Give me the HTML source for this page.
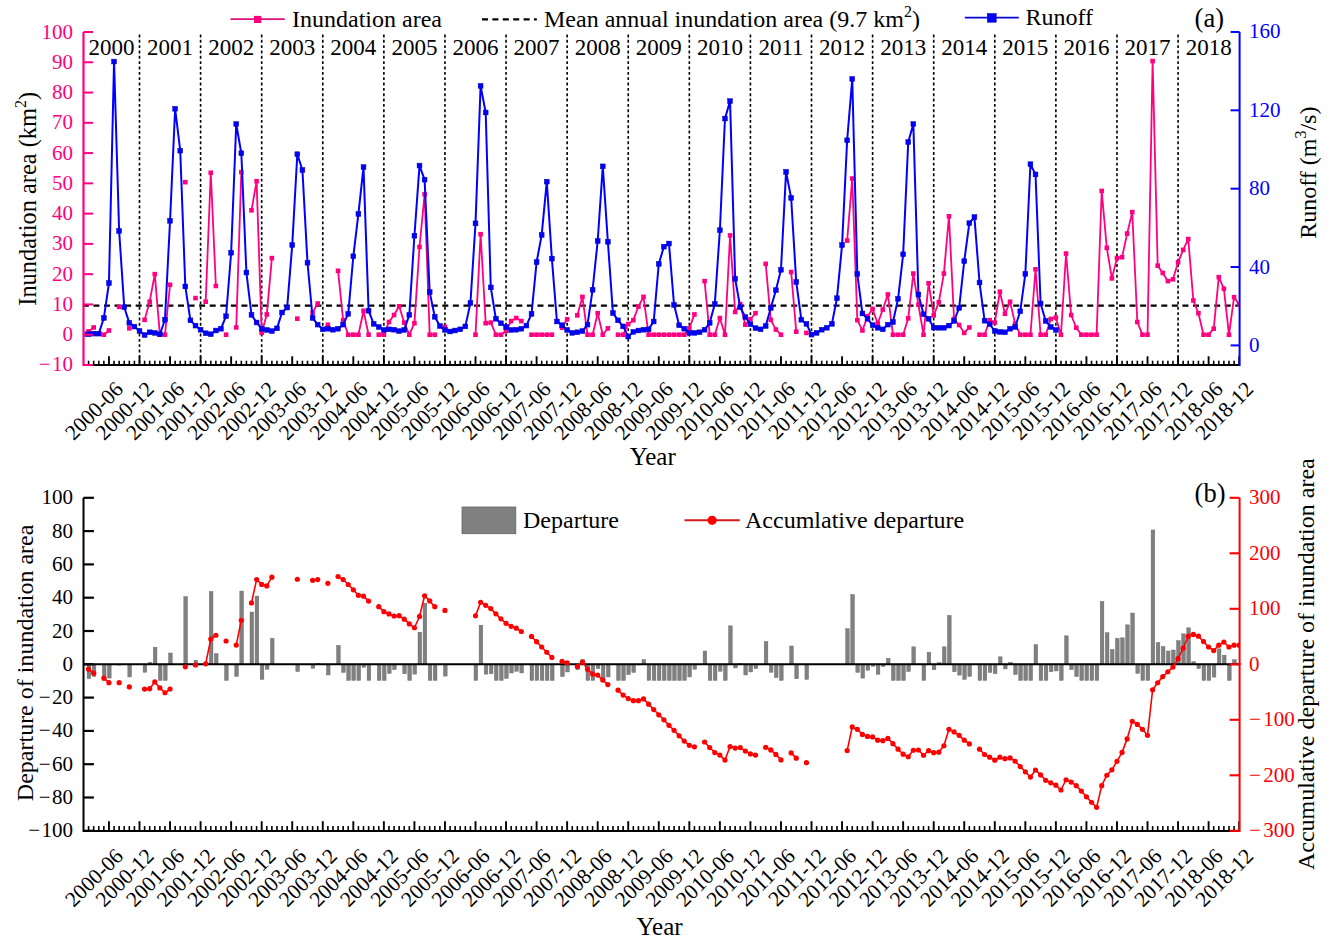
<!DOCTYPE html>
<html><head><meta charset="utf-8"><title>Inundation area and runoff</title>
<style>
html,body{margin:0;padding:0;background:#fff;}
body{width:1329px;height:944px;overflow:hidden;}
svg{display:block;font-family:"Liberation Serif", serif;}
</style></head>
<body>
<svg width="1329" height="944" viewBox="0 0 1329 944">
<defs><clipPath id="clipA"><rect x="84.6" y="0" width="1155" height="944"/></clipPath></defs>
<rect width="1329" height="944" fill="#fff"/>
<line x1="139.5" y1="34.5" x2="139.5" y2="365.0" stroke="#000" stroke-width="1.6" stroke-dasharray="2.9 2.44"/>
<line x1="200.59" y1="34.5" x2="200.59" y2="365.0" stroke="#000" stroke-width="1.6" stroke-dasharray="2.9 2.44"/>
<line x1="261.69" y1="34.5" x2="261.69" y2="365.0" stroke="#000" stroke-width="1.6" stroke-dasharray="2.9 2.44"/>
<line x1="322.78" y1="34.5" x2="322.78" y2="365.0" stroke="#000" stroke-width="1.6" stroke-dasharray="2.9 2.44"/>
<line x1="383.87" y1="34.5" x2="383.87" y2="365.0" stroke="#000" stroke-width="1.6" stroke-dasharray="2.9 2.44"/>
<line x1="444.96" y1="34.5" x2="444.96" y2="365.0" stroke="#000" stroke-width="1.6" stroke-dasharray="2.9 2.44"/>
<line x1="506.05" y1="34.5" x2="506.05" y2="365.0" stroke="#000" stroke-width="1.6" stroke-dasharray="2.9 2.44"/>
<line x1="567.14" y1="34.5" x2="567.14" y2="365.0" stroke="#000" stroke-width="1.6" stroke-dasharray="2.9 2.44"/>
<line x1="628.24" y1="34.5" x2="628.24" y2="365.0" stroke="#000" stroke-width="1.6" stroke-dasharray="2.9 2.44"/>
<line x1="689.33" y1="34.5" x2="689.33" y2="365.0" stroke="#000" stroke-width="1.6" stroke-dasharray="2.9 2.44"/>
<line x1="750.42" y1="34.5" x2="750.42" y2="365.0" stroke="#000" stroke-width="1.6" stroke-dasharray="2.9 2.44"/>
<line x1="811.51" y1="34.5" x2="811.51" y2="365.0" stroke="#000" stroke-width="1.6" stroke-dasharray="2.9 2.44"/>
<line x1="872.61" y1="34.5" x2="872.61" y2="365.0" stroke="#000" stroke-width="1.6" stroke-dasharray="2.9 2.44"/>
<line x1="933.7" y1="34.5" x2="933.7" y2="365.0" stroke="#000" stroke-width="1.6" stroke-dasharray="2.9 2.44"/>
<line x1="994.79" y1="34.5" x2="994.79" y2="365.0" stroke="#000" stroke-width="1.6" stroke-dasharray="2.9 2.44"/>
<line x1="1055.88" y1="34.5" x2="1055.88" y2="365.0" stroke="#000" stroke-width="1.6" stroke-dasharray="2.9 2.44"/>
<line x1="1116.97" y1="34.5" x2="1116.97" y2="365.0" stroke="#000" stroke-width="1.6" stroke-dasharray="2.9 2.44"/>
<line x1="1178.07" y1="34.5" x2="1178.07" y2="365.0" stroke="#000" stroke-width="1.6" stroke-dasharray="2.9 2.44"/>
<text x="111.5" y="55" font-size="23" text-anchor="middle">2000</text>
<text x="170.05" y="55" font-size="23" text-anchor="middle">2001</text>
<text x="231.14" y="55" font-size="23" text-anchor="middle">2002</text>
<text x="292.23" y="55" font-size="23" text-anchor="middle">2003</text>
<text x="353.32" y="55" font-size="23" text-anchor="middle">2004</text>
<text x="414.42" y="55" font-size="23" text-anchor="middle">2005</text>
<text x="475.51" y="55" font-size="23" text-anchor="middle">2006</text>
<text x="536.6" y="55" font-size="23" text-anchor="middle">2007</text>
<text x="597.69" y="55" font-size="23" text-anchor="middle">2008</text>
<text x="658.78" y="55" font-size="23" text-anchor="middle">2009</text>
<text x="719.88" y="55" font-size="23" text-anchor="middle">2010</text>
<text x="780.97" y="55" font-size="23" text-anchor="middle">2011</text>
<text x="842.06" y="55" font-size="23" text-anchor="middle">2012</text>
<text x="903.15" y="55" font-size="23" text-anchor="middle">2013</text>
<text x="964.24" y="55" font-size="23" text-anchor="middle">2014</text>
<text x="1025.34" y="55" font-size="23" text-anchor="middle">2015</text>
<text x="1086.43" y="55" font-size="23" text-anchor="middle">2016</text>
<text x="1147.52" y="55" font-size="23" text-anchor="middle">2017</text>
<text x="1208.83" y="55" font-size="23" text-anchor="middle">2018</text>
<line x1="82.83" y1="305.6" x2="1239.6" y2="305.6" stroke="#000" stroke-width="2.2" stroke-dasharray="6 4.573"/>
<g clip-path="url(#clipA)">
<polyline points="88.59,331.37 93.68,327.44" fill="none" stroke="#FF0080" stroke-width="1.8" stroke-linejoin="round"/>
<polyline points="103.86,334.7 108.95,330.46" fill="none" stroke="#FF0080" stroke-width="1.8" stroke-linejoin="round"/>
<polyline points="144.59,319.87 149.68,301.71 154.77,274.16 159.87,334.7 164.96,334.7 170.05,284.75" fill="none" stroke="#FF0080" stroke-width="1.8" stroke-linejoin="round"/>
<polyline points="205.68,301.71 210.78,172.76 215.87,285.97" fill="none" stroke="#FF0080" stroke-width="1.8" stroke-linejoin="round"/>
<polyline points="236.23,327.44 241.32,172.15" fill="none" stroke="#FF0080" stroke-width="1.8" stroke-linejoin="round"/>
<polyline points="251.5,210.29 256.59,181.23 261.69,332.88 266.78,314.42 271.87,258.12" fill="none" stroke="#FF0080" stroke-width="1.8" stroke-linejoin="round"/>
<polyline points="312.6,312.6 317.69,303.52" fill="none" stroke="#FF0080" stroke-width="1.8" stroke-linejoin="round"/>
<polyline points="338.05,270.83 343.14,320.17 348.23,334.7 353.32,334.7 358.41,334.7 363.5,310.79 368.6,334.7" fill="none" stroke="#FF0080" stroke-width="1.8" stroke-linejoin="round"/>
<polyline points="378.78,334.7 383.87,334.7 388.96,321.99 394.05,315.02 399.14,306.25 404.23,322.59 409.32,334.7 414.42,323.2 419.51,246.92 424.6,194.25 429.69,334.7 434.78,334.7" fill="none" stroke="#FF0080" stroke-width="1.8" stroke-linejoin="round"/>
<polyline points="475.51,334.7 480.6,234.2 485.69,323.2 490.78,322.59 495.87,334.7 500.96,334.7 506.05,331.07 511.14,321.08 516.24,318.05 521.33,321.08" fill="none" stroke="#FF0080" stroke-width="1.8" stroke-linejoin="round"/>
<polyline points="531.51,334.7 536.6,334.7 541.69,334.7 546.78,334.7 551.87,334.7" fill="none" stroke="#FF0080" stroke-width="1.8" stroke-linejoin="round"/>
<polyline points="562.05,327.74 567.14,319.26" fill="none" stroke="#FF0080" stroke-width="1.8" stroke-linejoin="round"/>
<polyline points="577.33,315.33 582.42,296.86 587.51,334.7 592.6,334.7 597.69,313.21 602.78,334.7 607.87,328.34" fill="none" stroke="#FF0080" stroke-width="1.8" stroke-linejoin="round"/>
<polyline points="618.06,334.7 623.15,334.7 628.24,324.11 633.33,320.17 638.42,306.55 643.51,296.86 648.6,334.7 653.69,334.7 658.78,334.7 663.87,334.7 668.97,334.7 674.06,334.7 679.15,334.7 684.24,334.7 689.33,328.34 694.42,314.42" fill="none" stroke="#FF0080" stroke-width="1.8" stroke-linejoin="round"/>
<polyline points="704.6,281.12 709.69,334.7 714.78,334.7 719.88,318.05 724.97,334.7 730.06,235.41 735.15,312 740.24,304.13 745.33,324.71 750.42,319.26 755.51,313.21" fill="none" stroke="#FF0080" stroke-width="1.8" stroke-linejoin="round"/>
<polyline points="765.69,263.87 770.79,319.87 775.88,329.55 780.97,334.7" fill="none" stroke="#FF0080" stroke-width="1.8" stroke-linejoin="round"/>
<polyline points="791.15,272.04 796.24,331.67" fill="none" stroke="#FF0080" stroke-width="1.8" stroke-linejoin="round"/>
<polyline points="847.15,240.56 852.24,178.51 857.33,320.17 862.42,330.46 867.51,316.24 872.61,308.97 877.7,323.5 882.79,309.58 887.88,294.44 892.97,334.7 898.06,334.7 903.15,334.7 908.24,318.35 913.33,273.55 918.42,304.73 923.51,334.7 928.61,283.24 933.7,315.33 938.79,302.31 943.88,273.55 948.97,216.34 954.06,318.96 959.15,325.01 964.24,332.88 969.33,327.44" fill="none" stroke="#FF0080" stroke-width="1.8" stroke-linejoin="round"/>
<polyline points="979.52,334.7 984.61,334.7 989.7,320.17 994.79,322.59 999.88,291.72 1004.97,313.81 1010.06,301.71 1015.15,323.8 1020.24,334.7 1025.34,334.7 1030.43,334.7 1035.52,269.32 1040.61,334.7 1045.7,334.7 1050.79,318.96 1055.88,317.45 1060.97,334.7 1066.06,253.58 1071.15,315.02 1076.24,327.74 1081.34,334.7 1086.43,334.7 1091.52,334.7 1096.61,334.7 1101.7,190.92 1106.79,247.83 1111.88,278.4 1116.97,258.12 1122.06,257.21 1127.15,233.6 1132.25,212.11 1137.34,321.99 1142.43,334.7 1147.52,334.7 1152.61,61.06 1157.7,265.68 1162.79,272.95 1167.88,281.12 1172.97,279.31 1178.07,262.35 1183.16,249.94 1188.25,239.05 1193.34,300.49 1198.43,313.21 1203.52,334.7 1208.61,334.7 1213.7,328.65 1218.79,277.19 1223.88,288.69 1228.98,334.7 1234.07,297.17 1239.16,304.43" fill="none" stroke="#FF0080" stroke-width="1.8" stroke-linejoin="round"/>
<rect x="86.29" y="329.07" width="4.6" height="4.6" fill="#FF0080"/>
<rect x="91.38" y="325.14" width="4.6" height="4.6" fill="#FF0080"/>
<rect x="101.56" y="332.4" width="4.6" height="4.6" fill="#FF0080"/>
<rect x="106.66" y="328.16" width="4.6" height="4.6" fill="#FF0080"/>
<rect x="116.84" y="304.55" width="4.6" height="4.6" fill="#FF0080"/>
<rect x="127.02" y="326.04" width="4.6" height="4.6" fill="#FF0080"/>
<rect x="142.29" y="317.57" width="4.6" height="4.6" fill="#FF0080"/>
<rect x="147.38" y="299.41" width="4.6" height="4.6" fill="#FF0080"/>
<rect x="152.47" y="271.86" width="4.6" height="4.6" fill="#FF0080"/>
<rect x="157.56" y="332.4" width="4.6" height="4.6" fill="#FF0080"/>
<rect x="162.66" y="332.4" width="4.6" height="4.6" fill="#FF0080"/>
<rect x="167.75" y="282.45" width="4.6" height="4.6" fill="#FF0080"/>
<rect x="183.02" y="179.84" width="4.6" height="4.6" fill="#FF0080"/>
<rect x="193.2" y="295.77" width="4.6" height="4.6" fill="#FF0080"/>
<rect x="203.38" y="299.41" width="4.6" height="4.6" fill="#FF0080"/>
<rect x="208.47" y="170.46" width="4.6" height="4.6" fill="#FF0080"/>
<rect x="213.57" y="283.67" width="4.6" height="4.6" fill="#FF0080"/>
<rect x="223.75" y="332.4" width="4.6" height="4.6" fill="#FF0080"/>
<rect x="233.93" y="325.14" width="4.6" height="4.6" fill="#FF0080"/>
<rect x="239.02" y="169.85" width="4.6" height="4.6" fill="#FF0080"/>
<rect x="249.2" y="207.99" width="4.6" height="4.6" fill="#FF0080"/>
<rect x="254.29" y="178.93" width="4.6" height="4.6" fill="#FF0080"/>
<rect x="259.38" y="330.58" width="4.6" height="4.6" fill="#FF0080"/>
<rect x="264.48" y="312.12" width="4.6" height="4.6" fill="#FF0080"/>
<rect x="269.57" y="255.82" width="4.6" height="4.6" fill="#FF0080"/>
<rect x="295.02" y="316.36" width="4.6" height="4.6" fill="#FF0080"/>
<rect x="310.3" y="310.3" width="4.6" height="4.6" fill="#FF0080"/>
<rect x="315.39" y="301.22" width="4.6" height="4.6" fill="#FF0080"/>
<rect x="325.57" y="322.41" width="4.6" height="4.6" fill="#FF0080"/>
<rect x="335.75" y="268.53" width="4.6" height="4.6" fill="#FF0080"/>
<rect x="340.84" y="317.87" width="4.6" height="4.6" fill="#FF0080"/>
<rect x="345.93" y="332.4" width="4.6" height="4.6" fill="#FF0080"/>
<rect x="351.02" y="332.4" width="4.6" height="4.6" fill="#FF0080"/>
<rect x="356.11" y="332.4" width="4.6" height="4.6" fill="#FF0080"/>
<rect x="361.2" y="308.49" width="4.6" height="4.6" fill="#FF0080"/>
<rect x="366.3" y="332.4" width="4.6" height="4.6" fill="#FF0080"/>
<rect x="376.48" y="332.4" width="4.6" height="4.6" fill="#FF0080"/>
<rect x="381.57" y="332.4" width="4.6" height="4.6" fill="#FF0080"/>
<rect x="386.66" y="319.69" width="4.6" height="4.6" fill="#FF0080"/>
<rect x="391.75" y="312.72" width="4.6" height="4.6" fill="#FF0080"/>
<rect x="396.84" y="303.95" width="4.6" height="4.6" fill="#FF0080"/>
<rect x="401.93" y="320.29" width="4.6" height="4.6" fill="#FF0080"/>
<rect x="407.02" y="332.4" width="4.6" height="4.6" fill="#FF0080"/>
<rect x="412.12" y="320.9" width="4.6" height="4.6" fill="#FF0080"/>
<rect x="417.21" y="244.62" width="4.6" height="4.6" fill="#FF0080"/>
<rect x="422.3" y="191.95" width="4.6" height="4.6" fill="#FF0080"/>
<rect x="427.39" y="332.4" width="4.6" height="4.6" fill="#FF0080"/>
<rect x="432.48" y="332.4" width="4.6" height="4.6" fill="#FF0080"/>
<rect x="442.66" y="324.53" width="4.6" height="4.6" fill="#FF0080"/>
<rect x="473.21" y="332.4" width="4.6" height="4.6" fill="#FF0080"/>
<rect x="478.3" y="231.9" width="4.6" height="4.6" fill="#FF0080"/>
<rect x="483.39" y="320.9" width="4.6" height="4.6" fill="#FF0080"/>
<rect x="488.48" y="320.29" width="4.6" height="4.6" fill="#FF0080"/>
<rect x="493.57" y="332.4" width="4.6" height="4.6" fill="#FF0080"/>
<rect x="498.66" y="332.4" width="4.6" height="4.6" fill="#FF0080"/>
<rect x="503.75" y="328.77" width="4.6" height="4.6" fill="#FF0080"/>
<rect x="508.84" y="318.78" width="4.6" height="4.6" fill="#FF0080"/>
<rect x="513.94" y="315.75" width="4.6" height="4.6" fill="#FF0080"/>
<rect x="519.03" y="318.78" width="4.6" height="4.6" fill="#FF0080"/>
<rect x="529.21" y="332.4" width="4.6" height="4.6" fill="#FF0080"/>
<rect x="534.3" y="332.4" width="4.6" height="4.6" fill="#FF0080"/>
<rect x="539.39" y="332.4" width="4.6" height="4.6" fill="#FF0080"/>
<rect x="544.48" y="332.4" width="4.6" height="4.6" fill="#FF0080"/>
<rect x="549.57" y="332.4" width="4.6" height="4.6" fill="#FF0080"/>
<rect x="559.75" y="325.44" width="4.6" height="4.6" fill="#FF0080"/>
<rect x="564.85" y="316.96" width="4.6" height="4.6" fill="#FF0080"/>
<rect x="575.03" y="313.03" width="4.6" height="4.6" fill="#FF0080"/>
<rect x="580.12" y="294.56" width="4.6" height="4.6" fill="#FF0080"/>
<rect x="585.21" y="332.4" width="4.6" height="4.6" fill="#FF0080"/>
<rect x="590.3" y="332.4" width="4.6" height="4.6" fill="#FF0080"/>
<rect x="595.39" y="310.91" width="4.6" height="4.6" fill="#FF0080"/>
<rect x="600.48" y="332.4" width="4.6" height="4.6" fill="#FF0080"/>
<rect x="605.57" y="326.04" width="4.6" height="4.6" fill="#FF0080"/>
<rect x="615.76" y="332.4" width="4.6" height="4.6" fill="#FF0080"/>
<rect x="620.85" y="332.4" width="4.6" height="4.6" fill="#FF0080"/>
<rect x="625.94" y="321.81" width="4.6" height="4.6" fill="#FF0080"/>
<rect x="631.03" y="317.87" width="4.6" height="4.6" fill="#FF0080"/>
<rect x="636.12" y="304.25" width="4.6" height="4.6" fill="#FF0080"/>
<rect x="641.21" y="294.56" width="4.6" height="4.6" fill="#FF0080"/>
<rect x="646.3" y="332.4" width="4.6" height="4.6" fill="#FF0080"/>
<rect x="651.39" y="332.4" width="4.6" height="4.6" fill="#FF0080"/>
<rect x="656.48" y="332.4" width="4.6" height="4.6" fill="#FF0080"/>
<rect x="661.57" y="332.4" width="4.6" height="4.6" fill="#FF0080"/>
<rect x="666.67" y="332.4" width="4.6" height="4.6" fill="#FF0080"/>
<rect x="671.76" y="332.4" width="4.6" height="4.6" fill="#FF0080"/>
<rect x="676.85" y="332.4" width="4.6" height="4.6" fill="#FF0080"/>
<rect x="681.94" y="332.4" width="4.6" height="4.6" fill="#FF0080"/>
<rect x="687.03" y="326.04" width="4.6" height="4.6" fill="#FF0080"/>
<rect x="692.12" y="312.12" width="4.6" height="4.6" fill="#FF0080"/>
<rect x="702.3" y="278.82" width="4.6" height="4.6" fill="#FF0080"/>
<rect x="707.39" y="332.4" width="4.6" height="4.6" fill="#FF0080"/>
<rect x="712.48" y="332.4" width="4.6" height="4.6" fill="#FF0080"/>
<rect x="717.58" y="315.75" width="4.6" height="4.6" fill="#FF0080"/>
<rect x="722.67" y="332.4" width="4.6" height="4.6" fill="#FF0080"/>
<rect x="727.76" y="233.11" width="4.6" height="4.6" fill="#FF0080"/>
<rect x="732.85" y="309.7" width="4.6" height="4.6" fill="#FF0080"/>
<rect x="737.94" y="301.83" width="4.6" height="4.6" fill="#FF0080"/>
<rect x="743.03" y="322.41" width="4.6" height="4.6" fill="#FF0080"/>
<rect x="748.12" y="316.96" width="4.6" height="4.6" fill="#FF0080"/>
<rect x="753.21" y="310.91" width="4.6" height="4.6" fill="#FF0080"/>
<rect x="763.39" y="261.57" width="4.6" height="4.6" fill="#FF0080"/>
<rect x="768.49" y="317.57" width="4.6" height="4.6" fill="#FF0080"/>
<rect x="773.58" y="327.25" width="4.6" height="4.6" fill="#FF0080"/>
<rect x="778.67" y="332.4" width="4.6" height="4.6" fill="#FF0080"/>
<rect x="788.85" y="269.74" width="4.6" height="4.6" fill="#FF0080"/>
<rect x="793.94" y="329.37" width="4.6" height="4.6" fill="#FF0080"/>
<rect x="804.12" y="330.58" width="4.6" height="4.6" fill="#FF0080"/>
<rect x="844.85" y="238.26" width="4.6" height="4.6" fill="#FF0080"/>
<rect x="849.94" y="176.21" width="4.6" height="4.6" fill="#FF0080"/>
<rect x="855.03" y="317.87" width="4.6" height="4.6" fill="#FF0080"/>
<rect x="860.12" y="328.16" width="4.6" height="4.6" fill="#FF0080"/>
<rect x="865.21" y="313.94" width="4.6" height="4.6" fill="#FF0080"/>
<rect x="870.31" y="306.67" width="4.6" height="4.6" fill="#FF0080"/>
<rect x="875.4" y="321.2" width="4.6" height="4.6" fill="#FF0080"/>
<rect x="880.49" y="307.28" width="4.6" height="4.6" fill="#FF0080"/>
<rect x="885.58" y="292.14" width="4.6" height="4.6" fill="#FF0080"/>
<rect x="890.67" y="332.4" width="4.6" height="4.6" fill="#FF0080"/>
<rect x="895.76" y="332.4" width="4.6" height="4.6" fill="#FF0080"/>
<rect x="900.85" y="332.4" width="4.6" height="4.6" fill="#FF0080"/>
<rect x="905.94" y="316.05" width="4.6" height="4.6" fill="#FF0080"/>
<rect x="911.03" y="271.25" width="4.6" height="4.6" fill="#FF0080"/>
<rect x="916.12" y="302.43" width="4.6" height="4.6" fill="#FF0080"/>
<rect x="921.22" y="332.4" width="4.6" height="4.6" fill="#FF0080"/>
<rect x="926.31" y="280.94" width="4.6" height="4.6" fill="#FF0080"/>
<rect x="931.4" y="313.03" width="4.6" height="4.6" fill="#FF0080"/>
<rect x="936.49" y="300.01" width="4.6" height="4.6" fill="#FF0080"/>
<rect x="941.58" y="271.25" width="4.6" height="4.6" fill="#FF0080"/>
<rect x="946.67" y="214.04" width="4.6" height="4.6" fill="#FF0080"/>
<rect x="951.76" y="316.66" width="4.6" height="4.6" fill="#FF0080"/>
<rect x="956.85" y="322.71" width="4.6" height="4.6" fill="#FF0080"/>
<rect x="961.94" y="330.58" width="4.6" height="4.6" fill="#FF0080"/>
<rect x="967.03" y="325.14" width="4.6" height="4.6" fill="#FF0080"/>
<rect x="977.22" y="332.4" width="4.6" height="4.6" fill="#FF0080"/>
<rect x="982.31" y="332.4" width="4.6" height="4.6" fill="#FF0080"/>
<rect x="987.4" y="317.87" width="4.6" height="4.6" fill="#FF0080"/>
<rect x="992.49" y="320.29" width="4.6" height="4.6" fill="#FF0080"/>
<rect x="997.58" y="289.42" width="4.6" height="4.6" fill="#FF0080"/>
<rect x="1002.67" y="311.51" width="4.6" height="4.6" fill="#FF0080"/>
<rect x="1007.76" y="299.41" width="4.6" height="4.6" fill="#FF0080"/>
<rect x="1012.85" y="321.5" width="4.6" height="4.6" fill="#FF0080"/>
<rect x="1017.94" y="332.4" width="4.6" height="4.6" fill="#FF0080"/>
<rect x="1023.04" y="332.4" width="4.6" height="4.6" fill="#FF0080"/>
<rect x="1028.13" y="332.4" width="4.6" height="4.6" fill="#FF0080"/>
<rect x="1033.22" y="267.02" width="4.6" height="4.6" fill="#FF0080"/>
<rect x="1038.31" y="332.4" width="4.6" height="4.6" fill="#FF0080"/>
<rect x="1043.4" y="332.4" width="4.6" height="4.6" fill="#FF0080"/>
<rect x="1048.49" y="316.66" width="4.6" height="4.6" fill="#FF0080"/>
<rect x="1053.58" y="315.15" width="4.6" height="4.6" fill="#FF0080"/>
<rect x="1058.67" y="332.4" width="4.6" height="4.6" fill="#FF0080"/>
<rect x="1063.76" y="251.28" width="4.6" height="4.6" fill="#FF0080"/>
<rect x="1068.85" y="312.72" width="4.6" height="4.6" fill="#FF0080"/>
<rect x="1073.94" y="325.44" width="4.6" height="4.6" fill="#FF0080"/>
<rect x="1079.04" y="332.4" width="4.6" height="4.6" fill="#FF0080"/>
<rect x="1084.13" y="332.4" width="4.6" height="4.6" fill="#FF0080"/>
<rect x="1089.22" y="332.4" width="4.6" height="4.6" fill="#FF0080"/>
<rect x="1094.31" y="332.4" width="4.6" height="4.6" fill="#FF0080"/>
<rect x="1099.4" y="188.62" width="4.6" height="4.6" fill="#FF0080"/>
<rect x="1104.49" y="245.53" width="4.6" height="4.6" fill="#FF0080"/>
<rect x="1109.58" y="276.1" width="4.6" height="4.6" fill="#FF0080"/>
<rect x="1114.67" y="255.82" width="4.6" height="4.6" fill="#FF0080"/>
<rect x="1119.76" y="254.91" width="4.6" height="4.6" fill="#FF0080"/>
<rect x="1124.86" y="231.3" width="4.6" height="4.6" fill="#FF0080"/>
<rect x="1129.95" y="209.81" width="4.6" height="4.6" fill="#FF0080"/>
<rect x="1135.04" y="319.69" width="4.6" height="4.6" fill="#FF0080"/>
<rect x="1140.13" y="332.4" width="4.6" height="4.6" fill="#FF0080"/>
<rect x="1145.22" y="332.4" width="4.6" height="4.6" fill="#FF0080"/>
<rect x="1150.31" y="58.76" width="4.6" height="4.6" fill="#FF0080"/>
<rect x="1155.4" y="263.38" width="4.6" height="4.6" fill="#FF0080"/>
<rect x="1160.49" y="270.65" width="4.6" height="4.6" fill="#FF0080"/>
<rect x="1165.58" y="278.82" width="4.6" height="4.6" fill="#FF0080"/>
<rect x="1170.67" y="277.01" width="4.6" height="4.6" fill="#FF0080"/>
<rect x="1175.77" y="260.05" width="4.6" height="4.6" fill="#FF0080"/>
<rect x="1180.86" y="247.64" width="4.6" height="4.6" fill="#FF0080"/>
<rect x="1185.95" y="236.75" width="4.6" height="4.6" fill="#FF0080"/>
<rect x="1191.04" y="298.19" width="4.6" height="4.6" fill="#FF0080"/>
<rect x="1196.13" y="310.91" width="4.6" height="4.6" fill="#FF0080"/>
<rect x="1201.22" y="332.4" width="4.6" height="4.6" fill="#FF0080"/>
<rect x="1206.31" y="332.4" width="4.6" height="4.6" fill="#FF0080"/>
<rect x="1211.4" y="326.35" width="4.6" height="4.6" fill="#FF0080"/>
<rect x="1216.49" y="274.89" width="4.6" height="4.6" fill="#FF0080"/>
<rect x="1221.58" y="286.39" width="4.6" height="4.6" fill="#FF0080"/>
<rect x="1226.68" y="332.4" width="4.6" height="4.6" fill="#FF0080"/>
<rect x="1231.77" y="294.87" width="4.6" height="4.6" fill="#FF0080"/>
<rect x="1236.86" y="302.13" width="4.6" height="4.6" fill="#FF0080"/>
<polyline points="83.5,334.23 88.59,334.23 93.68,333.65 98.77,333.65 103.86,317.97 108.95,283.1 114.05,61.54 119.14,230.99 124.23,307.2 129.32,322.87 134.41,326.59 139.5,331.1 144.59,335.02 149.68,332.27 154.77,332.86 159.87,334.23 164.96,319.74 170.05,220.81 175.14,108.75 180.23,150.68 185.32,286.43 190.41,320.32 195.5,325.61 200.59,329.73 205.68,333.25 210.78,334.23 215.87,330.51 220.96,328.75 226.05,316.21 231.14,252.74 236.23,124.03 241.32,153.22 246.41,272.53 251.5,314.84 256.59,322.48 261.69,328.75 266.78,329.92 271.87,331.1 276.96,328.36 282.05,312.49 287.14,307.59 292.23,245.1 297.32,154.2 302.41,170.07 307.5,262.73 312.6,317.97 317.69,324.63 322.78,329.34 327.87,328.75 332.96,329.73 338.05,328.75 343.14,324.63 348.23,313.86 353.32,256.27 358.41,213.95 363.5,167.13 368.6,310.73 373.69,323.85 378.78,326.99 383.87,329.92 388.96,329.34 394.05,329.73 399.14,331.1 404.23,329.92 409.32,314.84 414.42,235.7 419.51,165.56 424.6,179.67 429.69,292.12 434.78,316.8 439.87,326.01 444.96,329.92 450.05,331.49 455.14,330.51 460.23,329.34 465.32,326.4 470.42,303.09 475.51,223.35 480.6,85.83 485.69,112.47 490.78,287.41 495.87,318.76 500.96,323.26 506.05,326.99 511.14,329.92 516.24,329.73 521.33,328.75 526.42,325.61 531.51,313.86 536.6,262.14 541.69,234.91 546.78,181.63 551.87,258.62 556.96,321.5 562.05,325.22 567.14,329.92 572.24,332.86 577.33,332.27 582.42,331.1 587.51,324.63 592.6,289.76 597.69,240.99 602.78,166.35 607.87,241.77 612.96,313.08 618.06,320.32 623.15,326.4 628.24,336.58 633.33,331.88 638.42,330.51 643.51,329.73 648.6,329.34 653.69,321.5 658.78,263.91 663.87,246.67 668.97,243.53 674.06,304.85 679.15,325.22 684.24,328.75 689.33,332.86 694.42,332.86 699.51,332.27 704.6,329.73 709.69,322.87 714.78,304.07 719.88,230.21 724.97,118.55 730.06,101.11 735.15,278.79 740.24,307.2 745.33,316.99 750.42,324.24 755.51,328.16 760.6,329.34 765.69,326.01 770.79,307.98 775.88,290.16 780.97,269.78 786.06,171.83 791.15,197.89 796.24,281.93 801.33,319.74 806.42,323.85 811.51,334.63 816.6,332.86 821.7,329.73 826.79,327.77 831.88,323.85 836.97,298.19 842.06,245.1 847.15,140.29 852.24,78.98 857.33,274.09 862.42,313.47 867.51,318.76 872.61,325.22 877.7,327.77 882.79,329.34 887.88,324.63 892.97,322.09 898.06,298.78 903.15,254.31 908.24,142.06 913.33,124.03 918.42,294.47 923.51,314.25 928.61,318.76 933.7,327.57 938.79,327.77 943.88,327.77 948.97,325.61 954.06,320.91 959.15,307.98 964.24,261.16 969.33,223.16 974.43,217.09 979.52,282.52 984.61,320.72 989.7,324.24 994.79,331.1 999.88,331.88 1004.97,332.27 1010.06,328.75 1015.15,326.99 1020.24,311.31 1025.34,273.9 1030.43,164.19 1035.52,174.38 1040.61,303.48 1045.7,320.91 1050.79,326.99 1055.88,329.92" fill="none" stroke="#0000FF" stroke-width="2" stroke-linejoin="round"/>
<rect x="81.1" y="331.83" width="4.8" height="4.8" fill="#0000FF" stroke="#0000B0" stroke-width="0.5"/>
<rect x="86.19" y="331.83" width="4.8" height="4.8" fill="#0000FF" stroke="#0000B0" stroke-width="0.5"/>
<rect x="91.28" y="331.25" width="4.8" height="4.8" fill="#0000FF" stroke="#0000B0" stroke-width="0.5"/>
<rect x="96.37" y="331.25" width="4.8" height="4.8" fill="#0000FF" stroke="#0000B0" stroke-width="0.5"/>
<rect x="101.46" y="315.57" width="4.8" height="4.8" fill="#0000FF" stroke="#0000B0" stroke-width="0.5"/>
<rect x="106.55" y="280.7" width="4.8" height="4.8" fill="#0000FF" stroke="#0000B0" stroke-width="0.5"/>
<rect x="111.65" y="59.14" width="4.8" height="4.8" fill="#0000FF" stroke="#0000B0" stroke-width="0.5"/>
<rect x="116.74" y="228.59" width="4.8" height="4.8" fill="#0000FF" stroke="#0000B0" stroke-width="0.5"/>
<rect x="121.83" y="304.8" width="4.8" height="4.8" fill="#0000FF" stroke="#0000B0" stroke-width="0.5"/>
<rect x="126.92" y="320.47" width="4.8" height="4.8" fill="#0000FF" stroke="#0000B0" stroke-width="0.5"/>
<rect x="132.01" y="324.19" width="4.8" height="4.8" fill="#0000FF" stroke="#0000B0" stroke-width="0.5"/>
<rect x="137.1" y="328.7" width="4.8" height="4.8" fill="#0000FF" stroke="#0000B0" stroke-width="0.5"/>
<rect x="142.19" y="332.62" width="4.8" height="4.8" fill="#0000FF" stroke="#0000B0" stroke-width="0.5"/>
<rect x="147.28" y="329.87" width="4.8" height="4.8" fill="#0000FF" stroke="#0000B0" stroke-width="0.5"/>
<rect x="152.37" y="330.46" width="4.8" height="4.8" fill="#0000FF" stroke="#0000B0" stroke-width="0.5"/>
<rect x="157.47" y="331.83" width="4.8" height="4.8" fill="#0000FF" stroke="#0000B0" stroke-width="0.5"/>
<rect x="162.56" y="317.34" width="4.8" height="4.8" fill="#0000FF" stroke="#0000B0" stroke-width="0.5"/>
<rect x="167.65" y="218.41" width="4.8" height="4.8" fill="#0000FF" stroke="#0000B0" stroke-width="0.5"/>
<rect x="172.74" y="106.35" width="4.8" height="4.8" fill="#0000FF" stroke="#0000B0" stroke-width="0.5"/>
<rect x="177.83" y="148.28" width="4.8" height="4.8" fill="#0000FF" stroke="#0000B0" stroke-width="0.5"/>
<rect x="182.92" y="284.03" width="4.8" height="4.8" fill="#0000FF" stroke="#0000B0" stroke-width="0.5"/>
<rect x="188.01" y="317.92" width="4.8" height="4.8" fill="#0000FF" stroke="#0000B0" stroke-width="0.5"/>
<rect x="193.1" y="323.21" width="4.8" height="4.8" fill="#0000FF" stroke="#0000B0" stroke-width="0.5"/>
<rect x="198.19" y="327.33" width="4.8" height="4.8" fill="#0000FF" stroke="#0000B0" stroke-width="0.5"/>
<rect x="203.28" y="330.85" width="4.8" height="4.8" fill="#0000FF" stroke="#0000B0" stroke-width="0.5"/>
<rect x="208.38" y="331.83" width="4.8" height="4.8" fill="#0000FF" stroke="#0000B0" stroke-width="0.5"/>
<rect x="213.47" y="328.11" width="4.8" height="4.8" fill="#0000FF" stroke="#0000B0" stroke-width="0.5"/>
<rect x="218.56" y="326.35" width="4.8" height="4.8" fill="#0000FF" stroke="#0000B0" stroke-width="0.5"/>
<rect x="223.65" y="313.81" width="4.8" height="4.8" fill="#0000FF" stroke="#0000B0" stroke-width="0.5"/>
<rect x="228.74" y="250.34" width="4.8" height="4.8" fill="#0000FF" stroke="#0000B0" stroke-width="0.5"/>
<rect x="233.83" y="121.63" width="4.8" height="4.8" fill="#0000FF" stroke="#0000B0" stroke-width="0.5"/>
<rect x="238.92" y="150.82" width="4.8" height="4.8" fill="#0000FF" stroke="#0000B0" stroke-width="0.5"/>
<rect x="244.01" y="270.13" width="4.8" height="4.8" fill="#0000FF" stroke="#0000B0" stroke-width="0.5"/>
<rect x="249.1" y="312.44" width="4.8" height="4.8" fill="#0000FF" stroke="#0000B0" stroke-width="0.5"/>
<rect x="254.19" y="320.08" width="4.8" height="4.8" fill="#0000FF" stroke="#0000B0" stroke-width="0.5"/>
<rect x="259.29" y="326.35" width="4.8" height="4.8" fill="#0000FF" stroke="#0000B0" stroke-width="0.5"/>
<rect x="264.38" y="327.52" width="4.8" height="4.8" fill="#0000FF" stroke="#0000B0" stroke-width="0.5"/>
<rect x="269.47" y="328.7" width="4.8" height="4.8" fill="#0000FF" stroke="#0000B0" stroke-width="0.5"/>
<rect x="274.56" y="325.96" width="4.8" height="4.8" fill="#0000FF" stroke="#0000B0" stroke-width="0.5"/>
<rect x="279.65" y="310.09" width="4.8" height="4.8" fill="#0000FF" stroke="#0000B0" stroke-width="0.5"/>
<rect x="284.74" y="305.19" width="4.8" height="4.8" fill="#0000FF" stroke="#0000B0" stroke-width="0.5"/>
<rect x="289.83" y="242.7" width="4.8" height="4.8" fill="#0000FF" stroke="#0000B0" stroke-width="0.5"/>
<rect x="294.92" y="151.8" width="4.8" height="4.8" fill="#0000FF" stroke="#0000B0" stroke-width="0.5"/>
<rect x="300.01" y="167.67" width="4.8" height="4.8" fill="#0000FF" stroke="#0000B0" stroke-width="0.5"/>
<rect x="305.1" y="260.33" width="4.8" height="4.8" fill="#0000FF" stroke="#0000B0" stroke-width="0.5"/>
<rect x="310.2" y="315.57" width="4.8" height="4.8" fill="#0000FF" stroke="#0000B0" stroke-width="0.5"/>
<rect x="315.29" y="322.23" width="4.8" height="4.8" fill="#0000FF" stroke="#0000B0" stroke-width="0.5"/>
<rect x="320.38" y="326.94" width="4.8" height="4.8" fill="#0000FF" stroke="#0000B0" stroke-width="0.5"/>
<rect x="325.47" y="326.35" width="4.8" height="4.8" fill="#0000FF" stroke="#0000B0" stroke-width="0.5"/>
<rect x="330.56" y="327.33" width="4.8" height="4.8" fill="#0000FF" stroke="#0000B0" stroke-width="0.5"/>
<rect x="335.65" y="326.35" width="4.8" height="4.8" fill="#0000FF" stroke="#0000B0" stroke-width="0.5"/>
<rect x="340.74" y="322.23" width="4.8" height="4.8" fill="#0000FF" stroke="#0000B0" stroke-width="0.5"/>
<rect x="345.83" y="311.46" width="4.8" height="4.8" fill="#0000FF" stroke="#0000B0" stroke-width="0.5"/>
<rect x="350.92" y="253.87" width="4.8" height="4.8" fill="#0000FF" stroke="#0000B0" stroke-width="0.5"/>
<rect x="356.01" y="211.55" width="4.8" height="4.8" fill="#0000FF" stroke="#0000B0" stroke-width="0.5"/>
<rect x="361.11" y="164.73" width="4.8" height="4.8" fill="#0000FF" stroke="#0000B0" stroke-width="0.5"/>
<rect x="366.2" y="308.33" width="4.8" height="4.8" fill="#0000FF" stroke="#0000B0" stroke-width="0.5"/>
<rect x="371.29" y="321.45" width="4.8" height="4.8" fill="#0000FF" stroke="#0000B0" stroke-width="0.5"/>
<rect x="376.38" y="324.59" width="4.8" height="4.8" fill="#0000FF" stroke="#0000B0" stroke-width="0.5"/>
<rect x="381.47" y="327.52" width="4.8" height="4.8" fill="#0000FF" stroke="#0000B0" stroke-width="0.5"/>
<rect x="386.56" y="326.94" width="4.8" height="4.8" fill="#0000FF" stroke="#0000B0" stroke-width="0.5"/>
<rect x="391.65" y="327.33" width="4.8" height="4.8" fill="#0000FF" stroke="#0000B0" stroke-width="0.5"/>
<rect x="396.74" y="328.7" width="4.8" height="4.8" fill="#0000FF" stroke="#0000B0" stroke-width="0.5"/>
<rect x="401.83" y="327.52" width="4.8" height="4.8" fill="#0000FF" stroke="#0000B0" stroke-width="0.5"/>
<rect x="406.92" y="312.44" width="4.8" height="4.8" fill="#0000FF" stroke="#0000B0" stroke-width="0.5"/>
<rect x="412.02" y="233.3" width="4.8" height="4.8" fill="#0000FF" stroke="#0000B0" stroke-width="0.5"/>
<rect x="417.11" y="163.16" width="4.8" height="4.8" fill="#0000FF" stroke="#0000B0" stroke-width="0.5"/>
<rect x="422.2" y="177.27" width="4.8" height="4.8" fill="#0000FF" stroke="#0000B0" stroke-width="0.5"/>
<rect x="427.29" y="289.72" width="4.8" height="4.8" fill="#0000FF" stroke="#0000B0" stroke-width="0.5"/>
<rect x="432.38" y="314.4" width="4.8" height="4.8" fill="#0000FF" stroke="#0000B0" stroke-width="0.5"/>
<rect x="437.47" y="323.61" width="4.8" height="4.8" fill="#0000FF" stroke="#0000B0" stroke-width="0.5"/>
<rect x="442.56" y="327.52" width="4.8" height="4.8" fill="#0000FF" stroke="#0000B0" stroke-width="0.5"/>
<rect x="447.65" y="329.09" width="4.8" height="4.8" fill="#0000FF" stroke="#0000B0" stroke-width="0.5"/>
<rect x="452.74" y="328.11" width="4.8" height="4.8" fill="#0000FF" stroke="#0000B0" stroke-width="0.5"/>
<rect x="457.83" y="326.94" width="4.8" height="4.8" fill="#0000FF" stroke="#0000B0" stroke-width="0.5"/>
<rect x="462.93" y="324" width="4.8" height="4.8" fill="#0000FF" stroke="#0000B0" stroke-width="0.5"/>
<rect x="468.02" y="300.69" width="4.8" height="4.8" fill="#0000FF" stroke="#0000B0" stroke-width="0.5"/>
<rect x="473.11" y="220.95" width="4.8" height="4.8" fill="#0000FF" stroke="#0000B0" stroke-width="0.5"/>
<rect x="478.2" y="83.43" width="4.8" height="4.8" fill="#0000FF" stroke="#0000B0" stroke-width="0.5"/>
<rect x="483.29" y="110.07" width="4.8" height="4.8" fill="#0000FF" stroke="#0000B0" stroke-width="0.5"/>
<rect x="488.38" y="285.01" width="4.8" height="4.8" fill="#0000FF" stroke="#0000B0" stroke-width="0.5"/>
<rect x="493.47" y="316.36" width="4.8" height="4.8" fill="#0000FF" stroke="#0000B0" stroke-width="0.5"/>
<rect x="498.56" y="320.86" width="4.8" height="4.8" fill="#0000FF" stroke="#0000B0" stroke-width="0.5"/>
<rect x="503.65" y="324.59" width="4.8" height="4.8" fill="#0000FF" stroke="#0000B0" stroke-width="0.5"/>
<rect x="508.74" y="327.52" width="4.8" height="4.8" fill="#0000FF" stroke="#0000B0" stroke-width="0.5"/>
<rect x="513.84" y="327.33" width="4.8" height="4.8" fill="#0000FF" stroke="#0000B0" stroke-width="0.5"/>
<rect x="518.93" y="326.35" width="4.8" height="4.8" fill="#0000FF" stroke="#0000B0" stroke-width="0.5"/>
<rect x="524.02" y="323.21" width="4.8" height="4.8" fill="#0000FF" stroke="#0000B0" stroke-width="0.5"/>
<rect x="529.11" y="311.46" width="4.8" height="4.8" fill="#0000FF" stroke="#0000B0" stroke-width="0.5"/>
<rect x="534.2" y="259.74" width="4.8" height="4.8" fill="#0000FF" stroke="#0000B0" stroke-width="0.5"/>
<rect x="539.29" y="232.51" width="4.8" height="4.8" fill="#0000FF" stroke="#0000B0" stroke-width="0.5"/>
<rect x="544.38" y="179.23" width="4.8" height="4.8" fill="#0000FF" stroke="#0000B0" stroke-width="0.5"/>
<rect x="549.47" y="256.22" width="4.8" height="4.8" fill="#0000FF" stroke="#0000B0" stroke-width="0.5"/>
<rect x="554.56" y="319.1" width="4.8" height="4.8" fill="#0000FF" stroke="#0000B0" stroke-width="0.5"/>
<rect x="559.65" y="322.82" width="4.8" height="4.8" fill="#0000FF" stroke="#0000B0" stroke-width="0.5"/>
<rect x="564.75" y="327.52" width="4.8" height="4.8" fill="#0000FF" stroke="#0000B0" stroke-width="0.5"/>
<rect x="569.84" y="330.46" width="4.8" height="4.8" fill="#0000FF" stroke="#0000B0" stroke-width="0.5"/>
<rect x="574.93" y="329.87" width="4.8" height="4.8" fill="#0000FF" stroke="#0000B0" stroke-width="0.5"/>
<rect x="580.02" y="328.7" width="4.8" height="4.8" fill="#0000FF" stroke="#0000B0" stroke-width="0.5"/>
<rect x="585.11" y="322.23" width="4.8" height="4.8" fill="#0000FF" stroke="#0000B0" stroke-width="0.5"/>
<rect x="590.2" y="287.36" width="4.8" height="4.8" fill="#0000FF" stroke="#0000B0" stroke-width="0.5"/>
<rect x="595.29" y="238.59" width="4.8" height="4.8" fill="#0000FF" stroke="#0000B0" stroke-width="0.5"/>
<rect x="600.38" y="163.95" width="4.8" height="4.8" fill="#0000FF" stroke="#0000B0" stroke-width="0.5"/>
<rect x="605.47" y="239.37" width="4.8" height="4.8" fill="#0000FF" stroke="#0000B0" stroke-width="0.5"/>
<rect x="610.56" y="310.68" width="4.8" height="4.8" fill="#0000FF" stroke="#0000B0" stroke-width="0.5"/>
<rect x="615.66" y="317.92" width="4.8" height="4.8" fill="#0000FF" stroke="#0000B0" stroke-width="0.5"/>
<rect x="620.75" y="324" width="4.8" height="4.8" fill="#0000FF" stroke="#0000B0" stroke-width="0.5"/>
<rect x="625.84" y="334.18" width="4.8" height="4.8" fill="#0000FF" stroke="#0000B0" stroke-width="0.5"/>
<rect x="630.93" y="329.48" width="4.8" height="4.8" fill="#0000FF" stroke="#0000B0" stroke-width="0.5"/>
<rect x="636.02" y="328.11" width="4.8" height="4.8" fill="#0000FF" stroke="#0000B0" stroke-width="0.5"/>
<rect x="641.11" y="327.33" width="4.8" height="4.8" fill="#0000FF" stroke="#0000B0" stroke-width="0.5"/>
<rect x="646.2" y="326.94" width="4.8" height="4.8" fill="#0000FF" stroke="#0000B0" stroke-width="0.5"/>
<rect x="651.29" y="319.1" width="4.8" height="4.8" fill="#0000FF" stroke="#0000B0" stroke-width="0.5"/>
<rect x="656.38" y="261.51" width="4.8" height="4.8" fill="#0000FF" stroke="#0000B0" stroke-width="0.5"/>
<rect x="661.47" y="244.27" width="4.8" height="4.8" fill="#0000FF" stroke="#0000B0" stroke-width="0.5"/>
<rect x="666.57" y="241.13" width="4.8" height="4.8" fill="#0000FF" stroke="#0000B0" stroke-width="0.5"/>
<rect x="671.66" y="302.45" width="4.8" height="4.8" fill="#0000FF" stroke="#0000B0" stroke-width="0.5"/>
<rect x="676.75" y="322.82" width="4.8" height="4.8" fill="#0000FF" stroke="#0000B0" stroke-width="0.5"/>
<rect x="681.84" y="326.35" width="4.8" height="4.8" fill="#0000FF" stroke="#0000B0" stroke-width="0.5"/>
<rect x="686.93" y="330.46" width="4.8" height="4.8" fill="#0000FF" stroke="#0000B0" stroke-width="0.5"/>
<rect x="692.02" y="330.46" width="4.8" height="4.8" fill="#0000FF" stroke="#0000B0" stroke-width="0.5"/>
<rect x="697.11" y="329.87" width="4.8" height="4.8" fill="#0000FF" stroke="#0000B0" stroke-width="0.5"/>
<rect x="702.2" y="327.33" width="4.8" height="4.8" fill="#0000FF" stroke="#0000B0" stroke-width="0.5"/>
<rect x="707.29" y="320.47" width="4.8" height="4.8" fill="#0000FF" stroke="#0000B0" stroke-width="0.5"/>
<rect x="712.38" y="301.67" width="4.8" height="4.8" fill="#0000FF" stroke="#0000B0" stroke-width="0.5"/>
<rect x="717.48" y="227.81" width="4.8" height="4.8" fill="#0000FF" stroke="#0000B0" stroke-width="0.5"/>
<rect x="722.57" y="116.15" width="4.8" height="4.8" fill="#0000FF" stroke="#0000B0" stroke-width="0.5"/>
<rect x="727.66" y="98.71" width="4.8" height="4.8" fill="#0000FF" stroke="#0000B0" stroke-width="0.5"/>
<rect x="732.75" y="276.39" width="4.8" height="4.8" fill="#0000FF" stroke="#0000B0" stroke-width="0.5"/>
<rect x="737.84" y="304.8" width="4.8" height="4.8" fill="#0000FF" stroke="#0000B0" stroke-width="0.5"/>
<rect x="742.93" y="314.59" width="4.8" height="4.8" fill="#0000FF" stroke="#0000B0" stroke-width="0.5"/>
<rect x="748.02" y="321.84" width="4.8" height="4.8" fill="#0000FF" stroke="#0000B0" stroke-width="0.5"/>
<rect x="753.11" y="325.76" width="4.8" height="4.8" fill="#0000FF" stroke="#0000B0" stroke-width="0.5"/>
<rect x="758.2" y="326.94" width="4.8" height="4.8" fill="#0000FF" stroke="#0000B0" stroke-width="0.5"/>
<rect x="763.29" y="323.61" width="4.8" height="4.8" fill="#0000FF" stroke="#0000B0" stroke-width="0.5"/>
<rect x="768.39" y="305.58" width="4.8" height="4.8" fill="#0000FF" stroke="#0000B0" stroke-width="0.5"/>
<rect x="773.48" y="287.76" width="4.8" height="4.8" fill="#0000FF" stroke="#0000B0" stroke-width="0.5"/>
<rect x="778.57" y="267.38" width="4.8" height="4.8" fill="#0000FF" stroke="#0000B0" stroke-width="0.5"/>
<rect x="783.66" y="169.43" width="4.8" height="4.8" fill="#0000FF" stroke="#0000B0" stroke-width="0.5"/>
<rect x="788.75" y="195.49" width="4.8" height="4.8" fill="#0000FF" stroke="#0000B0" stroke-width="0.5"/>
<rect x="793.84" y="279.53" width="4.8" height="4.8" fill="#0000FF" stroke="#0000B0" stroke-width="0.5"/>
<rect x="798.93" y="317.34" width="4.8" height="4.8" fill="#0000FF" stroke="#0000B0" stroke-width="0.5"/>
<rect x="804.02" y="321.45" width="4.8" height="4.8" fill="#0000FF" stroke="#0000B0" stroke-width="0.5"/>
<rect x="809.11" y="332.23" width="4.8" height="4.8" fill="#0000FF" stroke="#0000B0" stroke-width="0.5"/>
<rect x="814.2" y="330.46" width="4.8" height="4.8" fill="#0000FF" stroke="#0000B0" stroke-width="0.5"/>
<rect x="819.3" y="327.33" width="4.8" height="4.8" fill="#0000FF" stroke="#0000B0" stroke-width="0.5"/>
<rect x="824.39" y="325.37" width="4.8" height="4.8" fill="#0000FF" stroke="#0000B0" stroke-width="0.5"/>
<rect x="829.48" y="321.45" width="4.8" height="4.8" fill="#0000FF" stroke="#0000B0" stroke-width="0.5"/>
<rect x="834.57" y="295.79" width="4.8" height="4.8" fill="#0000FF" stroke="#0000B0" stroke-width="0.5"/>
<rect x="839.66" y="242.7" width="4.8" height="4.8" fill="#0000FF" stroke="#0000B0" stroke-width="0.5"/>
<rect x="844.75" y="137.89" width="4.8" height="4.8" fill="#0000FF" stroke="#0000B0" stroke-width="0.5"/>
<rect x="849.84" y="76.58" width="4.8" height="4.8" fill="#0000FF" stroke="#0000B0" stroke-width="0.5"/>
<rect x="854.93" y="271.69" width="4.8" height="4.8" fill="#0000FF" stroke="#0000B0" stroke-width="0.5"/>
<rect x="860.02" y="311.07" width="4.8" height="4.8" fill="#0000FF" stroke="#0000B0" stroke-width="0.5"/>
<rect x="865.11" y="316.36" width="4.8" height="4.8" fill="#0000FF" stroke="#0000B0" stroke-width="0.5"/>
<rect x="870.21" y="322.82" width="4.8" height="4.8" fill="#0000FF" stroke="#0000B0" stroke-width="0.5"/>
<rect x="875.3" y="325.37" width="4.8" height="4.8" fill="#0000FF" stroke="#0000B0" stroke-width="0.5"/>
<rect x="880.39" y="326.94" width="4.8" height="4.8" fill="#0000FF" stroke="#0000B0" stroke-width="0.5"/>
<rect x="885.48" y="322.23" width="4.8" height="4.8" fill="#0000FF" stroke="#0000B0" stroke-width="0.5"/>
<rect x="890.57" y="319.69" width="4.8" height="4.8" fill="#0000FF" stroke="#0000B0" stroke-width="0.5"/>
<rect x="895.66" y="296.38" width="4.8" height="4.8" fill="#0000FF" stroke="#0000B0" stroke-width="0.5"/>
<rect x="900.75" y="251.91" width="4.8" height="4.8" fill="#0000FF" stroke="#0000B0" stroke-width="0.5"/>
<rect x="905.84" y="139.66" width="4.8" height="4.8" fill="#0000FF" stroke="#0000B0" stroke-width="0.5"/>
<rect x="910.93" y="121.63" width="4.8" height="4.8" fill="#0000FF" stroke="#0000B0" stroke-width="0.5"/>
<rect x="916.02" y="292.07" width="4.8" height="4.8" fill="#0000FF" stroke="#0000B0" stroke-width="0.5"/>
<rect x="921.12" y="311.85" width="4.8" height="4.8" fill="#0000FF" stroke="#0000B0" stroke-width="0.5"/>
<rect x="926.21" y="316.36" width="4.8" height="4.8" fill="#0000FF" stroke="#0000B0" stroke-width="0.5"/>
<rect x="931.3" y="325.17" width="4.8" height="4.8" fill="#0000FF" stroke="#0000B0" stroke-width="0.5"/>
<rect x="936.39" y="325.37" width="4.8" height="4.8" fill="#0000FF" stroke="#0000B0" stroke-width="0.5"/>
<rect x="941.48" y="325.37" width="4.8" height="4.8" fill="#0000FF" stroke="#0000B0" stroke-width="0.5"/>
<rect x="946.57" y="323.21" width="4.8" height="4.8" fill="#0000FF" stroke="#0000B0" stroke-width="0.5"/>
<rect x="951.66" y="318.51" width="4.8" height="4.8" fill="#0000FF" stroke="#0000B0" stroke-width="0.5"/>
<rect x="956.75" y="305.58" width="4.8" height="4.8" fill="#0000FF" stroke="#0000B0" stroke-width="0.5"/>
<rect x="961.84" y="258.76" width="4.8" height="4.8" fill="#0000FF" stroke="#0000B0" stroke-width="0.5"/>
<rect x="966.93" y="220.76" width="4.8" height="4.8" fill="#0000FF" stroke="#0000B0" stroke-width="0.5"/>
<rect x="972.03" y="214.69" width="4.8" height="4.8" fill="#0000FF" stroke="#0000B0" stroke-width="0.5"/>
<rect x="977.12" y="280.12" width="4.8" height="4.8" fill="#0000FF" stroke="#0000B0" stroke-width="0.5"/>
<rect x="982.21" y="318.32" width="4.8" height="4.8" fill="#0000FF" stroke="#0000B0" stroke-width="0.5"/>
<rect x="987.3" y="321.84" width="4.8" height="4.8" fill="#0000FF" stroke="#0000B0" stroke-width="0.5"/>
<rect x="992.39" y="328.7" width="4.8" height="4.8" fill="#0000FF" stroke="#0000B0" stroke-width="0.5"/>
<rect x="997.48" y="329.48" width="4.8" height="4.8" fill="#0000FF" stroke="#0000B0" stroke-width="0.5"/>
<rect x="1002.57" y="329.87" width="4.8" height="4.8" fill="#0000FF" stroke="#0000B0" stroke-width="0.5"/>
<rect x="1007.66" y="326.35" width="4.8" height="4.8" fill="#0000FF" stroke="#0000B0" stroke-width="0.5"/>
<rect x="1012.75" y="324.59" width="4.8" height="4.8" fill="#0000FF" stroke="#0000B0" stroke-width="0.5"/>
<rect x="1017.84" y="308.91" width="4.8" height="4.8" fill="#0000FF" stroke="#0000B0" stroke-width="0.5"/>
<rect x="1022.94" y="271.5" width="4.8" height="4.8" fill="#0000FF" stroke="#0000B0" stroke-width="0.5"/>
<rect x="1028.03" y="161.79" width="4.8" height="4.8" fill="#0000FF" stroke="#0000B0" stroke-width="0.5"/>
<rect x="1033.12" y="171.98" width="4.8" height="4.8" fill="#0000FF" stroke="#0000B0" stroke-width="0.5"/>
<rect x="1038.21" y="301.08" width="4.8" height="4.8" fill="#0000FF" stroke="#0000B0" stroke-width="0.5"/>
<rect x="1043.3" y="318.51" width="4.8" height="4.8" fill="#0000FF" stroke="#0000B0" stroke-width="0.5"/>
<rect x="1048.39" y="324.59" width="4.8" height="4.8" fill="#0000FF" stroke="#0000B0" stroke-width="0.5"/>
<rect x="1053.48" y="327.52" width="4.8" height="4.8" fill="#0000FF" stroke="#0000B0" stroke-width="0.5"/>
</g>
<line x1="83.5" y1="365.0" x2="1239.6" y2="365.0" stroke="#000" stroke-width="2"/>
<line x1="88.59" y1="365.0" x2="88.59" y2="360.7" stroke="#000" stroke-width="1.6"/>
<line x1="93.68" y1="365.0" x2="93.68" y2="360.7" stroke="#000" stroke-width="1.6"/>
<line x1="98.77" y1="365.0" x2="98.77" y2="360.7" stroke="#000" stroke-width="1.6"/>
<line x1="103.86" y1="365.0" x2="103.86" y2="360.7" stroke="#000" stroke-width="1.6"/>
<line x1="108.95" y1="365.0" x2="108.95" y2="356.3" stroke="#000" stroke-width="1.9"/>
<line x1="114.05" y1="365.0" x2="114.05" y2="360.7" stroke="#000" stroke-width="1.6"/>
<line x1="119.14" y1="365.0" x2="119.14" y2="360.7" stroke="#000" stroke-width="1.6"/>
<line x1="124.23" y1="365.0" x2="124.23" y2="360.7" stroke="#000" stroke-width="1.6"/>
<line x1="129.32" y1="365.0" x2="129.32" y2="360.7" stroke="#000" stroke-width="1.6"/>
<line x1="134.41" y1="365.0" x2="134.41" y2="360.7" stroke="#000" stroke-width="1.6"/>
<line x1="139.5" y1="365.0" x2="139.5" y2="356.3" stroke="#000" stroke-width="1.9"/>
<line x1="144.59" y1="365.0" x2="144.59" y2="360.7" stroke="#000" stroke-width="1.6"/>
<line x1="149.68" y1="365.0" x2="149.68" y2="360.7" stroke="#000" stroke-width="1.6"/>
<line x1="154.77" y1="365.0" x2="154.77" y2="360.7" stroke="#000" stroke-width="1.6"/>
<line x1="159.87" y1="365.0" x2="159.87" y2="360.7" stroke="#000" stroke-width="1.6"/>
<line x1="164.96" y1="365.0" x2="164.96" y2="360.7" stroke="#000" stroke-width="1.6"/>
<line x1="170.05" y1="365.0" x2="170.05" y2="356.3" stroke="#000" stroke-width="1.9"/>
<line x1="175.14" y1="365.0" x2="175.14" y2="360.7" stroke="#000" stroke-width="1.6"/>
<line x1="180.23" y1="365.0" x2="180.23" y2="360.7" stroke="#000" stroke-width="1.6"/>
<line x1="185.32" y1="365.0" x2="185.32" y2="360.7" stroke="#000" stroke-width="1.6"/>
<line x1="190.41" y1="365.0" x2="190.41" y2="360.7" stroke="#000" stroke-width="1.6"/>
<line x1="195.5" y1="365.0" x2="195.5" y2="360.7" stroke="#000" stroke-width="1.6"/>
<line x1="200.59" y1="365.0" x2="200.59" y2="356.3" stroke="#000" stroke-width="1.9"/>
<line x1="205.68" y1="365.0" x2="205.68" y2="360.7" stroke="#000" stroke-width="1.6"/>
<line x1="210.78" y1="365.0" x2="210.78" y2="360.7" stroke="#000" stroke-width="1.6"/>
<line x1="215.87" y1="365.0" x2="215.87" y2="360.7" stroke="#000" stroke-width="1.6"/>
<line x1="220.96" y1="365.0" x2="220.96" y2="360.7" stroke="#000" stroke-width="1.6"/>
<line x1="226.05" y1="365.0" x2="226.05" y2="360.7" stroke="#000" stroke-width="1.6"/>
<line x1="231.14" y1="365.0" x2="231.14" y2="356.3" stroke="#000" stroke-width="1.9"/>
<line x1="236.23" y1="365.0" x2="236.23" y2="360.7" stroke="#000" stroke-width="1.6"/>
<line x1="241.32" y1="365.0" x2="241.32" y2="360.7" stroke="#000" stroke-width="1.6"/>
<line x1="246.41" y1="365.0" x2="246.41" y2="360.7" stroke="#000" stroke-width="1.6"/>
<line x1="251.5" y1="365.0" x2="251.5" y2="360.7" stroke="#000" stroke-width="1.6"/>
<line x1="256.59" y1="365.0" x2="256.59" y2="360.7" stroke="#000" stroke-width="1.6"/>
<line x1="261.69" y1="365.0" x2="261.69" y2="356.3" stroke="#000" stroke-width="1.9"/>
<line x1="266.78" y1="365.0" x2="266.78" y2="360.7" stroke="#000" stroke-width="1.6"/>
<line x1="271.87" y1="365.0" x2="271.87" y2="360.7" stroke="#000" stroke-width="1.6"/>
<line x1="276.96" y1="365.0" x2="276.96" y2="360.7" stroke="#000" stroke-width="1.6"/>
<line x1="282.05" y1="365.0" x2="282.05" y2="360.7" stroke="#000" stroke-width="1.6"/>
<line x1="287.14" y1="365.0" x2="287.14" y2="360.7" stroke="#000" stroke-width="1.6"/>
<line x1="292.23" y1="365.0" x2="292.23" y2="356.3" stroke="#000" stroke-width="1.9"/>
<line x1="297.32" y1="365.0" x2="297.32" y2="360.7" stroke="#000" stroke-width="1.6"/>
<line x1="302.41" y1="365.0" x2="302.41" y2="360.7" stroke="#000" stroke-width="1.6"/>
<line x1="307.5" y1="365.0" x2="307.5" y2="360.7" stroke="#000" stroke-width="1.6"/>
<line x1="312.6" y1="365.0" x2="312.6" y2="360.7" stroke="#000" stroke-width="1.6"/>
<line x1="317.69" y1="365.0" x2="317.69" y2="360.7" stroke="#000" stroke-width="1.6"/>
<line x1="322.78" y1="365.0" x2="322.78" y2="356.3" stroke="#000" stroke-width="1.9"/>
<line x1="327.87" y1="365.0" x2="327.87" y2="360.7" stroke="#000" stroke-width="1.6"/>
<line x1="332.96" y1="365.0" x2="332.96" y2="360.7" stroke="#000" stroke-width="1.6"/>
<line x1="338.05" y1="365.0" x2="338.05" y2="360.7" stroke="#000" stroke-width="1.6"/>
<line x1="343.14" y1="365.0" x2="343.14" y2="360.7" stroke="#000" stroke-width="1.6"/>
<line x1="348.23" y1="365.0" x2="348.23" y2="360.7" stroke="#000" stroke-width="1.6"/>
<line x1="353.32" y1="365.0" x2="353.32" y2="356.3" stroke="#000" stroke-width="1.9"/>
<line x1="358.41" y1="365.0" x2="358.41" y2="360.7" stroke="#000" stroke-width="1.6"/>
<line x1="363.5" y1="365.0" x2="363.5" y2="360.7" stroke="#000" stroke-width="1.6"/>
<line x1="368.6" y1="365.0" x2="368.6" y2="360.7" stroke="#000" stroke-width="1.6"/>
<line x1="373.69" y1="365.0" x2="373.69" y2="360.7" stroke="#000" stroke-width="1.6"/>
<line x1="378.78" y1="365.0" x2="378.78" y2="360.7" stroke="#000" stroke-width="1.6"/>
<line x1="383.87" y1="365.0" x2="383.87" y2="356.3" stroke="#000" stroke-width="1.9"/>
<line x1="388.96" y1="365.0" x2="388.96" y2="360.7" stroke="#000" stroke-width="1.6"/>
<line x1="394.05" y1="365.0" x2="394.05" y2="360.7" stroke="#000" stroke-width="1.6"/>
<line x1="399.14" y1="365.0" x2="399.14" y2="360.7" stroke="#000" stroke-width="1.6"/>
<line x1="404.23" y1="365.0" x2="404.23" y2="360.7" stroke="#000" stroke-width="1.6"/>
<line x1="409.32" y1="365.0" x2="409.32" y2="360.7" stroke="#000" stroke-width="1.6"/>
<line x1="414.42" y1="365.0" x2="414.42" y2="356.3" stroke="#000" stroke-width="1.9"/>
<line x1="419.51" y1="365.0" x2="419.51" y2="360.7" stroke="#000" stroke-width="1.6"/>
<line x1="424.6" y1="365.0" x2="424.6" y2="360.7" stroke="#000" stroke-width="1.6"/>
<line x1="429.69" y1="365.0" x2="429.69" y2="360.7" stroke="#000" stroke-width="1.6"/>
<line x1="434.78" y1="365.0" x2="434.78" y2="360.7" stroke="#000" stroke-width="1.6"/>
<line x1="439.87" y1="365.0" x2="439.87" y2="360.7" stroke="#000" stroke-width="1.6"/>
<line x1="444.96" y1="365.0" x2="444.96" y2="356.3" stroke="#000" stroke-width="1.9"/>
<line x1="450.05" y1="365.0" x2="450.05" y2="360.7" stroke="#000" stroke-width="1.6"/>
<line x1="455.14" y1="365.0" x2="455.14" y2="360.7" stroke="#000" stroke-width="1.6"/>
<line x1="460.23" y1="365.0" x2="460.23" y2="360.7" stroke="#000" stroke-width="1.6"/>
<line x1="465.32" y1="365.0" x2="465.32" y2="360.7" stroke="#000" stroke-width="1.6"/>
<line x1="470.42" y1="365.0" x2="470.42" y2="360.7" stroke="#000" stroke-width="1.6"/>
<line x1="475.51" y1="365.0" x2="475.51" y2="356.3" stroke="#000" stroke-width="1.9"/>
<line x1="480.6" y1="365.0" x2="480.6" y2="360.7" stroke="#000" stroke-width="1.6"/>
<line x1="485.69" y1="365.0" x2="485.69" y2="360.7" stroke="#000" stroke-width="1.6"/>
<line x1="490.78" y1="365.0" x2="490.78" y2="360.7" stroke="#000" stroke-width="1.6"/>
<line x1="495.87" y1="365.0" x2="495.87" y2="360.7" stroke="#000" stroke-width="1.6"/>
<line x1="500.96" y1="365.0" x2="500.96" y2="360.7" stroke="#000" stroke-width="1.6"/>
<line x1="506.05" y1="365.0" x2="506.05" y2="356.3" stroke="#000" stroke-width="1.9"/>
<line x1="511.14" y1="365.0" x2="511.14" y2="360.7" stroke="#000" stroke-width="1.6"/>
<line x1="516.24" y1="365.0" x2="516.24" y2="360.7" stroke="#000" stroke-width="1.6"/>
<line x1="521.33" y1="365.0" x2="521.33" y2="360.7" stroke="#000" stroke-width="1.6"/>
<line x1="526.42" y1="365.0" x2="526.42" y2="360.7" stroke="#000" stroke-width="1.6"/>
<line x1="531.51" y1="365.0" x2="531.51" y2="360.7" stroke="#000" stroke-width="1.6"/>
<line x1="536.6" y1="365.0" x2="536.6" y2="356.3" stroke="#000" stroke-width="1.9"/>
<line x1="541.69" y1="365.0" x2="541.69" y2="360.7" stroke="#000" stroke-width="1.6"/>
<line x1="546.78" y1="365.0" x2="546.78" y2="360.7" stroke="#000" stroke-width="1.6"/>
<line x1="551.87" y1="365.0" x2="551.87" y2="360.7" stroke="#000" stroke-width="1.6"/>
<line x1="556.96" y1="365.0" x2="556.96" y2="360.7" stroke="#000" stroke-width="1.6"/>
<line x1="562.05" y1="365.0" x2="562.05" y2="360.7" stroke="#000" stroke-width="1.6"/>
<line x1="567.14" y1="365.0" x2="567.14" y2="356.3" stroke="#000" stroke-width="1.9"/>
<line x1="572.24" y1="365.0" x2="572.24" y2="360.7" stroke="#000" stroke-width="1.6"/>
<line x1="577.33" y1="365.0" x2="577.33" y2="360.7" stroke="#000" stroke-width="1.6"/>
<line x1="582.42" y1="365.0" x2="582.42" y2="360.7" stroke="#000" stroke-width="1.6"/>
<line x1="587.51" y1="365.0" x2="587.51" y2="360.7" stroke="#000" stroke-width="1.6"/>
<line x1="592.6" y1="365.0" x2="592.6" y2="360.7" stroke="#000" stroke-width="1.6"/>
<line x1="597.69" y1="365.0" x2="597.69" y2="356.3" stroke="#000" stroke-width="1.9"/>
<line x1="602.78" y1="365.0" x2="602.78" y2="360.7" stroke="#000" stroke-width="1.6"/>
<line x1="607.87" y1="365.0" x2="607.87" y2="360.7" stroke="#000" stroke-width="1.6"/>
<line x1="612.96" y1="365.0" x2="612.96" y2="360.7" stroke="#000" stroke-width="1.6"/>
<line x1="618.06" y1="365.0" x2="618.06" y2="360.7" stroke="#000" stroke-width="1.6"/>
<line x1="623.15" y1="365.0" x2="623.15" y2="360.7" stroke="#000" stroke-width="1.6"/>
<line x1="628.24" y1="365.0" x2="628.24" y2="356.3" stroke="#000" stroke-width="1.9"/>
<line x1="633.33" y1="365.0" x2="633.33" y2="360.7" stroke="#000" stroke-width="1.6"/>
<line x1="638.42" y1="365.0" x2="638.42" y2="360.7" stroke="#000" stroke-width="1.6"/>
<line x1="643.51" y1="365.0" x2="643.51" y2="360.7" stroke="#000" stroke-width="1.6"/>
<line x1="648.6" y1="365.0" x2="648.6" y2="360.7" stroke="#000" stroke-width="1.6"/>
<line x1="653.69" y1="365.0" x2="653.69" y2="360.7" stroke="#000" stroke-width="1.6"/>
<line x1="658.78" y1="365.0" x2="658.78" y2="356.3" stroke="#000" stroke-width="1.9"/>
<line x1="663.87" y1="365.0" x2="663.87" y2="360.7" stroke="#000" stroke-width="1.6"/>
<line x1="668.97" y1="365.0" x2="668.97" y2="360.7" stroke="#000" stroke-width="1.6"/>
<line x1="674.06" y1="365.0" x2="674.06" y2="360.7" stroke="#000" stroke-width="1.6"/>
<line x1="679.15" y1="365.0" x2="679.15" y2="360.7" stroke="#000" stroke-width="1.6"/>
<line x1="684.24" y1="365.0" x2="684.24" y2="360.7" stroke="#000" stroke-width="1.6"/>
<line x1="689.33" y1="365.0" x2="689.33" y2="356.3" stroke="#000" stroke-width="1.9"/>
<line x1="694.42" y1="365.0" x2="694.42" y2="360.7" stroke="#000" stroke-width="1.6"/>
<line x1="699.51" y1="365.0" x2="699.51" y2="360.7" stroke="#000" stroke-width="1.6"/>
<line x1="704.6" y1="365.0" x2="704.6" y2="360.7" stroke="#000" stroke-width="1.6"/>
<line x1="709.69" y1="365.0" x2="709.69" y2="360.7" stroke="#000" stroke-width="1.6"/>
<line x1="714.78" y1="365.0" x2="714.78" y2="360.7" stroke="#000" stroke-width="1.6"/>
<line x1="719.88" y1="365.0" x2="719.88" y2="356.3" stroke="#000" stroke-width="1.9"/>
<line x1="724.97" y1="365.0" x2="724.97" y2="360.7" stroke="#000" stroke-width="1.6"/>
<line x1="730.06" y1="365.0" x2="730.06" y2="360.7" stroke="#000" stroke-width="1.6"/>
<line x1="735.15" y1="365.0" x2="735.15" y2="360.7" stroke="#000" stroke-width="1.6"/>
<line x1="740.24" y1="365.0" x2="740.24" y2="360.7" stroke="#000" stroke-width="1.6"/>
<line x1="745.33" y1="365.0" x2="745.33" y2="360.7" stroke="#000" stroke-width="1.6"/>
<line x1="750.42" y1="365.0" x2="750.42" y2="356.3" stroke="#000" stroke-width="1.9"/>
<line x1="755.51" y1="365.0" x2="755.51" y2="360.7" stroke="#000" stroke-width="1.6"/>
<line x1="760.6" y1="365.0" x2="760.6" y2="360.7" stroke="#000" stroke-width="1.6"/>
<line x1="765.69" y1="365.0" x2="765.69" y2="360.7" stroke="#000" stroke-width="1.6"/>
<line x1="770.79" y1="365.0" x2="770.79" y2="360.7" stroke="#000" stroke-width="1.6"/>
<line x1="775.88" y1="365.0" x2="775.88" y2="360.7" stroke="#000" stroke-width="1.6"/>
<line x1="780.97" y1="365.0" x2="780.97" y2="356.3" stroke="#000" stroke-width="1.9"/>
<line x1="786.06" y1="365.0" x2="786.06" y2="360.7" stroke="#000" stroke-width="1.6"/>
<line x1="791.15" y1="365.0" x2="791.15" y2="360.7" stroke="#000" stroke-width="1.6"/>
<line x1="796.24" y1="365.0" x2="796.24" y2="360.7" stroke="#000" stroke-width="1.6"/>
<line x1="801.33" y1="365.0" x2="801.33" y2="360.7" stroke="#000" stroke-width="1.6"/>
<line x1="806.42" y1="365.0" x2="806.42" y2="360.7" stroke="#000" stroke-width="1.6"/>
<line x1="811.51" y1="365.0" x2="811.51" y2="356.3" stroke="#000" stroke-width="1.9"/>
<line x1="816.6" y1="365.0" x2="816.6" y2="360.7" stroke="#000" stroke-width="1.6"/>
<line x1="821.7" y1="365.0" x2="821.7" y2="360.7" stroke="#000" stroke-width="1.6"/>
<line x1="826.79" y1="365.0" x2="826.79" y2="360.7" stroke="#000" stroke-width="1.6"/>
<line x1="831.88" y1="365.0" x2="831.88" y2="360.7" stroke="#000" stroke-width="1.6"/>
<line x1="836.97" y1="365.0" x2="836.97" y2="360.7" stroke="#000" stroke-width="1.6"/>
<line x1="842.06" y1="365.0" x2="842.06" y2="356.3" stroke="#000" stroke-width="1.9"/>
<line x1="847.15" y1="365.0" x2="847.15" y2="360.7" stroke="#000" stroke-width="1.6"/>
<line x1="852.24" y1="365.0" x2="852.24" y2="360.7" stroke="#000" stroke-width="1.6"/>
<line x1="857.33" y1="365.0" x2="857.33" y2="360.7" stroke="#000" stroke-width="1.6"/>
<line x1="862.42" y1="365.0" x2="862.42" y2="360.7" stroke="#000" stroke-width="1.6"/>
<line x1="867.51" y1="365.0" x2="867.51" y2="360.7" stroke="#000" stroke-width="1.6"/>
<line x1="872.61" y1="365.0" x2="872.61" y2="356.3" stroke="#000" stroke-width="1.9"/>
<line x1="877.7" y1="365.0" x2="877.7" y2="360.7" stroke="#000" stroke-width="1.6"/>
<line x1="882.79" y1="365.0" x2="882.79" y2="360.7" stroke="#000" stroke-width="1.6"/>
<line x1="887.88" y1="365.0" x2="887.88" y2="360.7" stroke="#000" stroke-width="1.6"/>
<line x1="892.97" y1="365.0" x2="892.97" y2="360.7" stroke="#000" stroke-width="1.6"/>
<line x1="898.06" y1="365.0" x2="898.06" y2="360.7" stroke="#000" stroke-width="1.6"/>
<line x1="903.15" y1="365.0" x2="903.15" y2="356.3" stroke="#000" stroke-width="1.9"/>
<line x1="908.24" y1="365.0" x2="908.24" y2="360.7" stroke="#000" stroke-width="1.6"/>
<line x1="913.33" y1="365.0" x2="913.33" y2="360.7" stroke="#000" stroke-width="1.6"/>
<line x1="918.42" y1="365.0" x2="918.42" y2="360.7" stroke="#000" stroke-width="1.6"/>
<line x1="923.51" y1="365.0" x2="923.51" y2="360.7" stroke="#000" stroke-width="1.6"/>
<line x1="928.61" y1="365.0" x2="928.61" y2="360.7" stroke="#000" stroke-width="1.6"/>
<line x1="933.7" y1="365.0" x2="933.7" y2="356.3" stroke="#000" stroke-width="1.9"/>
<line x1="938.79" y1="365.0" x2="938.79" y2="360.7" stroke="#000" stroke-width="1.6"/>
<line x1="943.88" y1="365.0" x2="943.88" y2="360.7" stroke="#000" stroke-width="1.6"/>
<line x1="948.97" y1="365.0" x2="948.97" y2="360.7" stroke="#000" stroke-width="1.6"/>
<line x1="954.06" y1="365.0" x2="954.06" y2="360.7" stroke="#000" stroke-width="1.6"/>
<line x1="959.15" y1="365.0" x2="959.15" y2="360.7" stroke="#000" stroke-width="1.6"/>
<line x1="964.24" y1="365.0" x2="964.24" y2="356.3" stroke="#000" stroke-width="1.9"/>
<line x1="969.33" y1="365.0" x2="969.33" y2="360.7" stroke="#000" stroke-width="1.6"/>
<line x1="974.43" y1="365.0" x2="974.43" y2="360.7" stroke="#000" stroke-width="1.6"/>
<line x1="979.52" y1="365.0" x2="979.52" y2="360.7" stroke="#000" stroke-width="1.6"/>
<line x1="984.61" y1="365.0" x2="984.61" y2="360.7" stroke="#000" stroke-width="1.6"/>
<line x1="989.7" y1="365.0" x2="989.7" y2="360.7" stroke="#000" stroke-width="1.6"/>
<line x1="994.79" y1="365.0" x2="994.79" y2="356.3" stroke="#000" stroke-width="1.9"/>
<line x1="999.88" y1="365.0" x2="999.88" y2="360.7" stroke="#000" stroke-width="1.6"/>
<line x1="1004.97" y1="365.0" x2="1004.97" y2="360.7" stroke="#000" stroke-width="1.6"/>
<line x1="1010.06" y1="365.0" x2="1010.06" y2="360.7" stroke="#000" stroke-width="1.6"/>
<line x1="1015.15" y1="365.0" x2="1015.15" y2="360.7" stroke="#000" stroke-width="1.6"/>
<line x1="1020.24" y1="365.0" x2="1020.24" y2="360.7" stroke="#000" stroke-width="1.6"/>
<line x1="1025.34" y1="365.0" x2="1025.34" y2="356.3" stroke="#000" stroke-width="1.9"/>
<line x1="1030.43" y1="365.0" x2="1030.43" y2="360.7" stroke="#000" stroke-width="1.6"/>
<line x1="1035.52" y1="365.0" x2="1035.52" y2="360.7" stroke="#000" stroke-width="1.6"/>
<line x1="1040.61" y1="365.0" x2="1040.61" y2="360.7" stroke="#000" stroke-width="1.6"/>
<line x1="1045.7" y1="365.0" x2="1045.7" y2="360.7" stroke="#000" stroke-width="1.6"/>
<line x1="1050.79" y1="365.0" x2="1050.79" y2="360.7" stroke="#000" stroke-width="1.6"/>
<line x1="1055.88" y1="365.0" x2="1055.88" y2="356.3" stroke="#000" stroke-width="1.9"/>
<line x1="1060.97" y1="365.0" x2="1060.97" y2="360.7" stroke="#000" stroke-width="1.6"/>
<line x1="1066.06" y1="365.0" x2="1066.06" y2="360.7" stroke="#000" stroke-width="1.6"/>
<line x1="1071.15" y1="365.0" x2="1071.15" y2="360.7" stroke="#000" stroke-width="1.6"/>
<line x1="1076.24" y1="365.0" x2="1076.24" y2="360.7" stroke="#000" stroke-width="1.6"/>
<line x1="1081.34" y1="365.0" x2="1081.34" y2="360.7" stroke="#000" stroke-width="1.6"/>
<line x1="1086.43" y1="365.0" x2="1086.43" y2="356.3" stroke="#000" stroke-width="1.9"/>
<line x1="1091.52" y1="365.0" x2="1091.52" y2="360.7" stroke="#000" stroke-width="1.6"/>
<line x1="1096.61" y1="365.0" x2="1096.61" y2="360.7" stroke="#000" stroke-width="1.6"/>
<line x1="1101.7" y1="365.0" x2="1101.7" y2="360.7" stroke="#000" stroke-width="1.6"/>
<line x1="1106.79" y1="365.0" x2="1106.79" y2="360.7" stroke="#000" stroke-width="1.6"/>
<line x1="1111.88" y1="365.0" x2="1111.88" y2="360.7" stroke="#000" stroke-width="1.6"/>
<line x1="1116.97" y1="365.0" x2="1116.97" y2="356.3" stroke="#000" stroke-width="1.9"/>
<line x1="1122.06" y1="365.0" x2="1122.06" y2="360.7" stroke="#000" stroke-width="1.6"/>
<line x1="1127.15" y1="365.0" x2="1127.15" y2="360.7" stroke="#000" stroke-width="1.6"/>
<line x1="1132.25" y1="365.0" x2="1132.25" y2="360.7" stroke="#000" stroke-width="1.6"/>
<line x1="1137.34" y1="365.0" x2="1137.34" y2="360.7" stroke="#000" stroke-width="1.6"/>
<line x1="1142.43" y1="365.0" x2="1142.43" y2="360.7" stroke="#000" stroke-width="1.6"/>
<line x1="1147.52" y1="365.0" x2="1147.52" y2="356.3" stroke="#000" stroke-width="1.9"/>
<line x1="1152.61" y1="365.0" x2="1152.61" y2="360.7" stroke="#000" stroke-width="1.6"/>
<line x1="1157.7" y1="365.0" x2="1157.7" y2="360.7" stroke="#000" stroke-width="1.6"/>
<line x1="1162.79" y1="365.0" x2="1162.79" y2="360.7" stroke="#000" stroke-width="1.6"/>
<line x1="1167.88" y1="365.0" x2="1167.88" y2="360.7" stroke="#000" stroke-width="1.6"/>
<line x1="1172.97" y1="365.0" x2="1172.97" y2="360.7" stroke="#000" stroke-width="1.6"/>
<line x1="1178.07" y1="365.0" x2="1178.07" y2="356.3" stroke="#000" stroke-width="1.9"/>
<line x1="1183.16" y1="365.0" x2="1183.16" y2="360.7" stroke="#000" stroke-width="1.6"/>
<line x1="1188.25" y1="365.0" x2="1188.25" y2="360.7" stroke="#000" stroke-width="1.6"/>
<line x1="1193.34" y1="365.0" x2="1193.34" y2="360.7" stroke="#000" stroke-width="1.6"/>
<line x1="1198.43" y1="365.0" x2="1198.43" y2="360.7" stroke="#000" stroke-width="1.6"/>
<line x1="1203.52" y1="365.0" x2="1203.52" y2="360.7" stroke="#000" stroke-width="1.6"/>
<line x1="1208.61" y1="365.0" x2="1208.61" y2="356.3" stroke="#000" stroke-width="1.9"/>
<line x1="1213.7" y1="365.0" x2="1213.7" y2="360.7" stroke="#000" stroke-width="1.6"/>
<line x1="1218.79" y1="365.0" x2="1218.79" y2="360.7" stroke="#000" stroke-width="1.6"/>
<line x1="1223.88" y1="365.0" x2="1223.88" y2="360.7" stroke="#000" stroke-width="1.6"/>
<line x1="1228.98" y1="365.0" x2="1228.98" y2="360.7" stroke="#000" stroke-width="1.6"/>
<line x1="1234.07" y1="365.0" x2="1234.07" y2="360.7" stroke="#000" stroke-width="1.6"/>
<line x1="1239.16" y1="365.0" x2="1239.16" y2="356.3" stroke="#000" stroke-width="1.9"/>
<line x1="83.5" y1="32.0" x2="83.5" y2="366.0" stroke="#FF0080" stroke-width="2.2"/>
<line x1="83.5" y1="32" x2="93.0" y2="32" stroke="#FF0080" stroke-width="2"/>
<text x="73" y="38.5" font-size="21" text-anchor="end" fill="#FF0080">100</text>
<line x1="83.5" y1="62.27" x2="93.0" y2="62.27" stroke="#FF0080" stroke-width="2"/>
<text x="73" y="68.77" font-size="21" text-anchor="end" fill="#FF0080">90</text>
<line x1="83.5" y1="92.54" x2="93.0" y2="92.54" stroke="#FF0080" stroke-width="2"/>
<text x="73" y="99.04" font-size="21" text-anchor="end" fill="#FF0080">80</text>
<line x1="83.5" y1="122.81" x2="93.0" y2="122.81" stroke="#FF0080" stroke-width="2"/>
<text x="73" y="129.31" font-size="21" text-anchor="end" fill="#FF0080">70</text>
<line x1="83.5" y1="153.08" x2="93.0" y2="153.08" stroke="#FF0080" stroke-width="2"/>
<text x="73" y="159.58" font-size="21" text-anchor="end" fill="#FF0080">60</text>
<line x1="83.5" y1="183.35" x2="93.0" y2="183.35" stroke="#FF0080" stroke-width="2"/>
<text x="73" y="189.85" font-size="21" text-anchor="end" fill="#FF0080">50</text>
<line x1="83.5" y1="213.62" x2="93.0" y2="213.62" stroke="#FF0080" stroke-width="2"/>
<text x="73" y="220.12" font-size="21" text-anchor="end" fill="#FF0080">40</text>
<line x1="83.5" y1="243.89" x2="93.0" y2="243.89" stroke="#FF0080" stroke-width="2"/>
<text x="73" y="250.39" font-size="21" text-anchor="end" fill="#FF0080">30</text>
<line x1="83.5" y1="274.16" x2="93.0" y2="274.16" stroke="#FF0080" stroke-width="2"/>
<text x="73" y="280.66" font-size="21" text-anchor="end" fill="#FF0080">20</text>
<line x1="83.5" y1="304.43" x2="93.0" y2="304.43" stroke="#FF0080" stroke-width="2"/>
<text x="73" y="310.93" font-size="21" text-anchor="end" fill="#FF0080">10</text>
<line x1="83.5" y1="334.7" x2="93.0" y2="334.7" stroke="#FF0080" stroke-width="2"/>
<text x="73" y="341.2" font-size="21" text-anchor="end" fill="#FF0080">0</text>
<line x1="83.5" y1="364.97" x2="93.0" y2="364.97" stroke="#FF0080" stroke-width="2"/>
<text x="73" y="371.47" font-size="21" text-anchor="end" fill="#FF0080">−<tspan dx="1.5">10</tspan></text>
<line x1="1239.6" y1="32.0" x2="1239.6" y2="366.0" stroke="#0000FF" stroke-width="2"/>
<line x1="1230.6" y1="345.4" x2="1239.6" y2="345.4" stroke="#0000FF" stroke-width="2"/>
<text x="1249" y="351.9" font-size="21" fill="#0000FF">0</text>
<line x1="1230.6" y1="267.04" x2="1239.6" y2="267.04" stroke="#0000FF" stroke-width="2"/>
<text x="1249" y="273.54" font-size="21" fill="#0000FF">40</text>
<line x1="1230.6" y1="188.68" x2="1239.6" y2="188.68" stroke="#0000FF" stroke-width="2"/>
<text x="1249" y="195.18" font-size="21" fill="#0000FF">80</text>
<line x1="1230.6" y1="110.32" x2="1239.6" y2="110.32" stroke="#0000FF" stroke-width="2"/>
<text x="1249" y="116.82" font-size="21" fill="#0000FF">120</text>
<line x1="1230.6" y1="31.96" x2="1239.6" y2="31.96" stroke="#0000FF" stroke-width="2"/>
<text x="1249" y="38.46" font-size="21" fill="#0000FF">160</text>
<text transform="translate(124.45,390.5) rotate(-45)" font-size="21.5" text-anchor="end">2000-06</text>
<text transform="translate(155,390.5) rotate(-45)" font-size="21.5" text-anchor="end">2000-12</text>
<text transform="translate(185.55,390.5) rotate(-45)" font-size="21.5" text-anchor="end">2001-06</text>
<text transform="translate(216.09,390.5) rotate(-45)" font-size="21.5" text-anchor="end">2001-12</text>
<text transform="translate(246.64,390.5) rotate(-45)" font-size="21.5" text-anchor="end">2002-06</text>
<text transform="translate(277.19,390.5) rotate(-45)" font-size="21.5" text-anchor="end">2002-12</text>
<text transform="translate(307.73,390.5) rotate(-45)" font-size="21.5" text-anchor="end">2003-06</text>
<text transform="translate(338.28,390.5) rotate(-45)" font-size="21.5" text-anchor="end">2003-12</text>
<text transform="translate(368.82,390.5) rotate(-45)" font-size="21.5" text-anchor="end">2004-06</text>
<text transform="translate(399.37,390.5) rotate(-45)" font-size="21.5" text-anchor="end">2004-12</text>
<text transform="translate(429.92,390.5) rotate(-45)" font-size="21.5" text-anchor="end">2005-06</text>
<text transform="translate(460.46,390.5) rotate(-45)" font-size="21.5" text-anchor="end">2005-12</text>
<text transform="translate(491.01,390.5) rotate(-45)" font-size="21.5" text-anchor="end">2006-06</text>
<text transform="translate(521.55,390.5) rotate(-45)" font-size="21.5" text-anchor="end">2006-12</text>
<text transform="translate(552.1,390.5) rotate(-45)" font-size="21.5" text-anchor="end">2007-06</text>
<text transform="translate(582.64,390.5) rotate(-45)" font-size="21.5" text-anchor="end">2007-12</text>
<text transform="translate(613.19,390.5) rotate(-45)" font-size="21.5" text-anchor="end">2008-06</text>
<text transform="translate(643.74,390.5) rotate(-45)" font-size="21.5" text-anchor="end">2008-12</text>
<text transform="translate(674.28,390.5) rotate(-45)" font-size="21.5" text-anchor="end">2009-06</text>
<text transform="translate(704.83,390.5) rotate(-45)" font-size="21.5" text-anchor="end">2009-12</text>
<text transform="translate(735.38,390.5) rotate(-45)" font-size="21.5" text-anchor="end">2010-06</text>
<text transform="translate(765.92,390.5) rotate(-45)" font-size="21.5" text-anchor="end">2010-12</text>
<text transform="translate(796.47,390.5) rotate(-45)" font-size="21.5" text-anchor="end">2011-06</text>
<text transform="translate(827.01,390.5) rotate(-45)" font-size="21.5" text-anchor="end">2011-12</text>
<text transform="translate(857.56,390.5) rotate(-45)" font-size="21.5" text-anchor="end">2012-06</text>
<text transform="translate(888.11,390.5) rotate(-45)" font-size="21.5" text-anchor="end">2012-12</text>
<text transform="translate(918.65,390.5) rotate(-45)" font-size="21.5" text-anchor="end">2013-06</text>
<text transform="translate(949.2,390.5) rotate(-45)" font-size="21.5" text-anchor="end">2013-12</text>
<text transform="translate(979.74,390.5) rotate(-45)" font-size="21.5" text-anchor="end">2014-06</text>
<text transform="translate(1010.29,390.5) rotate(-45)" font-size="21.5" text-anchor="end">2014-12</text>
<text transform="translate(1040.84,390.5) rotate(-45)" font-size="21.5" text-anchor="end">2015-06</text>
<text transform="translate(1071.38,390.5) rotate(-45)" font-size="21.5" text-anchor="end">2015-12</text>
<text transform="translate(1101.93,390.5) rotate(-45)" font-size="21.5" text-anchor="end">2016-06</text>
<text transform="translate(1132.47,390.5) rotate(-45)" font-size="21.5" text-anchor="end">2016-12</text>
<text transform="translate(1163.02,390.5) rotate(-45)" font-size="21.5" text-anchor="end">2017-06</text>
<text transform="translate(1193.57,390.5) rotate(-45)" font-size="21.5" text-anchor="end">2017-12</text>
<text transform="translate(1224.11,390.5) rotate(-45)" font-size="21.5" text-anchor="end">2018-06</text>
<text transform="translate(1254.66,390.5) rotate(-45)" font-size="21.5" text-anchor="end">2018-12</text>
<text x="652.7" y="464.5" font-size="25" text-anchor="middle">Year</text>
<text transform="translate(36,198.8) rotate(-90)" font-size="24.4" text-anchor="middle">Inundation area (km<tspan dy="-10" font-size="16">2</tspan><tspan dy="10">)</tspan></text>
<text transform="translate(1315.5,172.7) rotate(-90)" font-size="24" text-anchor="middle">Runoff (m<tspan dy="-10" font-size="16">3</tspan><tspan dy="10">/s)</tspan></text>
<line x1="230.5" y1="19.1" x2="284.8" y2="19.1" stroke="#E0107A" stroke-width="1.8"/>
<rect x="254" y="15.9" width="7.3" height="7.1" fill="#FF0080"/>
<text x="292" y="27" font-size="24">Inundation area</text>
<line x1="482" y1="19.4" x2="536.8" y2="19.4" stroke="#000" stroke-width="2.2" stroke-dasharray="6 4.4"/>
<text x="544" y="27" font-size="24">Mean annual inundation area (9.7 km<tspan dy="-10" font-size="16">2</tspan><tspan dy="10">)</tspan></text>
<line x1="964.8" y1="17.6" x2="1018.8" y2="17.6" stroke="#0606D8" stroke-width="1.9"/>
<rect x="987.4" y="13.6" width="8.8" height="8.6" fill="#0000FF" stroke="#0000C0" stroke-width="0.6"/>
<text x="1025.5" y="25" font-size="24">Runoff</text>
<text x="1194.6" y="26.8" font-size="26.5">(a)</text>
<rect x="87.09" y="664.3" width="3.7" height="14.32" fill="#808080" stroke="#666" stroke-width="0.4"/>
<rect x="92.18" y="664.3" width="3.7" height="12.15" fill="#808080" stroke="#666" stroke-width="0.4"/>
<rect x="102.36" y="664.3" width="3.7" height="16.15" fill="#808080" stroke="#666" stroke-width="0.4"/>
<rect x="107.45" y="664.3" width="3.7" height="13.82" fill="#808080" stroke="#666" stroke-width="0.4"/>
<rect x="117.64" y="664.3" width="3.7" height="0.83" fill="#808080" stroke="#666" stroke-width="0.4"/>
<rect x="127.82" y="664.3" width="3.7" height="12.65" fill="#808080" stroke="#666" stroke-width="0.4"/>
<rect x="143.09" y="664.3" width="3.7" height="7.99" fill="#808080" stroke="#666" stroke-width="0.4"/>
<rect x="148.18" y="662.3" width="3.7" height="2" fill="#808080" stroke="#666" stroke-width="0.4"/>
<rect x="153.27" y="647.15" width="3.7" height="17.15" fill="#808080" stroke="#666" stroke-width="0.4"/>
<rect x="158.37" y="664.3" width="3.7" height="16.15" fill="#808080" stroke="#666" stroke-width="0.4"/>
<rect x="163.46" y="664.3" width="3.7" height="16.15" fill="#808080" stroke="#666" stroke-width="0.4"/>
<rect x="168.55" y="652.98" width="3.7" height="11.32" fill="#808080" stroke="#666" stroke-width="0.4"/>
<rect x="183.82" y="596.53" width="3.7" height="67.77" fill="#808080" stroke="#666" stroke-width="0.4"/>
<rect x="194" y="660.3" width="3.7" height="4" fill="#808080" stroke="#666" stroke-width="0.4"/>
<rect x="204.18" y="662.3" width="3.7" height="2" fill="#808080" stroke="#666" stroke-width="0.4"/>
<rect x="209.28" y="591.37" width="3.7" height="72.93" fill="#808080" stroke="#666" stroke-width="0.4"/>
<rect x="214.37" y="653.64" width="3.7" height="10.66" fill="#808080" stroke="#666" stroke-width="0.4"/>
<rect x="224.55" y="664.3" width="3.7" height="16.15" fill="#808080" stroke="#666" stroke-width="0.4"/>
<rect x="234.73" y="664.3" width="3.7" height="12.15" fill="#808080" stroke="#666" stroke-width="0.4"/>
<rect x="239.82" y="591.04" width="3.7" height="73.26" fill="#808080" stroke="#666" stroke-width="0.4"/>
<rect x="250" y="612.02" width="3.7" height="52.28" fill="#808080" stroke="#666" stroke-width="0.4"/>
<rect x="255.09" y="596.03" width="3.7" height="68.26" fill="#808080" stroke="#666" stroke-width="0.4"/>
<rect x="260.19" y="664.3" width="3.7" height="15.15" fill="#808080" stroke="#666" stroke-width="0.4"/>
<rect x="265.28" y="664.3" width="3.7" height="5" fill="#808080" stroke="#666" stroke-width="0.4"/>
<rect x="270.37" y="638.33" width="3.7" height="25.97" fill="#808080" stroke="#666" stroke-width="0.4"/>
<rect x="295.82" y="664.3" width="3.7" height="7.33" fill="#808080" stroke="#666" stroke-width="0.4"/>
<rect x="311.1" y="664.3" width="3.7" height="4" fill="#808080" stroke="#666" stroke-width="0.4"/>
<rect x="316.19" y="663.3" width="3.7" height="1" fill="#808080" stroke="#666" stroke-width="0.4"/>
<rect x="326.37" y="664.3" width="3.7" height="10.66" fill="#808080" stroke="#666" stroke-width="0.4"/>
<rect x="336.55" y="645.32" width="3.7" height="18.98" fill="#808080" stroke="#666" stroke-width="0.4"/>
<rect x="341.64" y="664.3" width="3.7" height="8.16" fill="#808080" stroke="#666" stroke-width="0.4"/>
<rect x="346.73" y="664.3" width="3.7" height="16.15" fill="#808080" stroke="#666" stroke-width="0.4"/>
<rect x="351.82" y="664.3" width="3.7" height="16.15" fill="#808080" stroke="#666" stroke-width="0.4"/>
<rect x="356.91" y="664.3" width="3.7" height="16.15" fill="#808080" stroke="#666" stroke-width="0.4"/>
<rect x="362" y="664.3" width="3.7" height="3" fill="#808080" stroke="#666" stroke-width="0.4"/>
<rect x="367.1" y="664.3" width="3.7" height="16.15" fill="#808080" stroke="#666" stroke-width="0.4"/>
<rect x="377.28" y="664.3" width="3.7" height="16.15" fill="#808080" stroke="#666" stroke-width="0.4"/>
<rect x="382.37" y="664.3" width="3.7" height="16.15" fill="#808080" stroke="#666" stroke-width="0.4"/>
<rect x="387.46" y="664.3" width="3.7" height="9.16" fill="#808080" stroke="#666" stroke-width="0.4"/>
<rect x="392.55" y="664.3" width="3.7" height="5.33" fill="#808080" stroke="#666" stroke-width="0.4"/>
<rect x="397.64" y="664.3" width="3.7" height="0.5" fill="#808080" stroke="#666" stroke-width="0.4"/>
<rect x="402.73" y="664.3" width="3.7" height="9.49" fill="#808080" stroke="#666" stroke-width="0.4"/>
<rect x="407.82" y="664.3" width="3.7" height="16.15" fill="#808080" stroke="#666" stroke-width="0.4"/>
<rect x="412.92" y="664.3" width="3.7" height="9.82" fill="#808080" stroke="#666" stroke-width="0.4"/>
<rect x="418.01" y="632.17" width="3.7" height="32.13" fill="#808080" stroke="#666" stroke-width="0.4"/>
<rect x="423.1" y="603.19" width="3.7" height="61.11" fill="#808080" stroke="#666" stroke-width="0.4"/>
<rect x="428.19" y="664.3" width="3.7" height="16.15" fill="#808080" stroke="#666" stroke-width="0.4"/>
<rect x="433.28" y="664.3" width="3.7" height="16.15" fill="#808080" stroke="#666" stroke-width="0.4"/>
<rect x="443.46" y="664.3" width="3.7" height="11.82" fill="#808080" stroke="#666" stroke-width="0.4"/>
<rect x="474.01" y="664.3" width="3.7" height="16.15" fill="#808080" stroke="#666" stroke-width="0.4"/>
<rect x="479.1" y="625.17" width="3.7" height="39.13" fill="#808080" stroke="#666" stroke-width="0.4"/>
<rect x="484.19" y="664.3" width="3.7" height="9.82" fill="#808080" stroke="#666" stroke-width="0.4"/>
<rect x="489.28" y="664.3" width="3.7" height="9.49" fill="#808080" stroke="#666" stroke-width="0.4"/>
<rect x="494.37" y="664.3" width="3.7" height="16.15" fill="#808080" stroke="#666" stroke-width="0.4"/>
<rect x="499.46" y="664.3" width="3.7" height="16.15" fill="#808080" stroke="#666" stroke-width="0.4"/>
<rect x="504.55" y="664.3" width="3.7" height="14.15" fill="#808080" stroke="#666" stroke-width="0.4"/>
<rect x="509.64" y="664.3" width="3.7" height="8.66" fill="#808080" stroke="#666" stroke-width="0.4"/>
<rect x="514.74" y="664.3" width="3.7" height="6.99" fill="#808080" stroke="#666" stroke-width="0.4"/>
<rect x="519.83" y="664.3" width="3.7" height="8.66" fill="#808080" stroke="#666" stroke-width="0.4"/>
<rect x="530.01" y="664.3" width="3.7" height="16.15" fill="#808080" stroke="#666" stroke-width="0.4"/>
<rect x="535.1" y="664.3" width="3.7" height="16.15" fill="#808080" stroke="#666" stroke-width="0.4"/>
<rect x="540.19" y="664.3" width="3.7" height="16.15" fill="#808080" stroke="#666" stroke-width="0.4"/>
<rect x="545.28" y="664.3" width="3.7" height="16.15" fill="#808080" stroke="#666" stroke-width="0.4"/>
<rect x="550.37" y="664.3" width="3.7" height="16.15" fill="#808080" stroke="#666" stroke-width="0.4"/>
<rect x="560.55" y="664.3" width="3.7" height="12.32" fill="#808080" stroke="#666" stroke-width="0.4"/>
<rect x="565.64" y="664.3" width="3.7" height="7.66" fill="#808080" stroke="#666" stroke-width="0.4"/>
<rect x="575.83" y="664.3" width="3.7" height="5.49" fill="#808080" stroke="#666" stroke-width="0.4"/>
<rect x="580.92" y="659.64" width="3.7" height="4.66" fill="#808080" stroke="#666" stroke-width="0.4"/>
<rect x="586.01" y="664.3" width="3.7" height="16.15" fill="#808080" stroke="#666" stroke-width="0.4"/>
<rect x="591.1" y="664.3" width="3.7" height="16.15" fill="#808080" stroke="#666" stroke-width="0.4"/>
<rect x="596.19" y="664.3" width="3.7" height="4.33" fill="#808080" stroke="#666" stroke-width="0.4"/>
<rect x="601.28" y="664.3" width="3.7" height="16.15" fill="#808080" stroke="#666" stroke-width="0.4"/>
<rect x="606.37" y="664.3" width="3.7" height="12.65" fill="#808080" stroke="#666" stroke-width="0.4"/>
<rect x="616.56" y="664.3" width="3.7" height="16.15" fill="#808080" stroke="#666" stroke-width="0.4"/>
<rect x="621.65" y="664.3" width="3.7" height="16.15" fill="#808080" stroke="#666" stroke-width="0.4"/>
<rect x="626.74" y="664.3" width="3.7" height="10.32" fill="#808080" stroke="#666" stroke-width="0.4"/>
<rect x="631.83" y="664.3" width="3.7" height="8.16" fill="#808080" stroke="#666" stroke-width="0.4"/>
<rect x="636.92" y="664.3" width="3.7" height="0.67" fill="#808080" stroke="#666" stroke-width="0.4"/>
<rect x="642.01" y="659.64" width="3.7" height="4.66" fill="#808080" stroke="#666" stroke-width="0.4"/>
<rect x="647.1" y="664.3" width="3.7" height="16.15" fill="#808080" stroke="#666" stroke-width="0.4"/>
<rect x="652.19" y="664.3" width="3.7" height="16.15" fill="#808080" stroke="#666" stroke-width="0.4"/>
<rect x="657.28" y="664.3" width="3.7" height="16.15" fill="#808080" stroke="#666" stroke-width="0.4"/>
<rect x="662.37" y="664.3" width="3.7" height="16.15" fill="#808080" stroke="#666" stroke-width="0.4"/>
<rect x="667.47" y="664.3" width="3.7" height="16.15" fill="#808080" stroke="#666" stroke-width="0.4"/>
<rect x="672.56" y="664.3" width="3.7" height="16.15" fill="#808080" stroke="#666" stroke-width="0.4"/>
<rect x="677.65" y="664.3" width="3.7" height="16.15" fill="#808080" stroke="#666" stroke-width="0.4"/>
<rect x="682.74" y="664.3" width="3.7" height="16.15" fill="#808080" stroke="#666" stroke-width="0.4"/>
<rect x="687.83" y="664.3" width="3.7" height="12.65" fill="#808080" stroke="#666" stroke-width="0.4"/>
<rect x="692.92" y="664.3" width="3.7" height="5" fill="#808080" stroke="#666" stroke-width="0.4"/>
<rect x="703.1" y="650.98" width="3.7" height="13.32" fill="#808080" stroke="#666" stroke-width="0.4"/>
<rect x="708.19" y="664.3" width="3.7" height="16.15" fill="#808080" stroke="#666" stroke-width="0.4"/>
<rect x="713.28" y="664.3" width="3.7" height="16.15" fill="#808080" stroke="#666" stroke-width="0.4"/>
<rect x="718.38" y="664.3" width="3.7" height="6.99" fill="#808080" stroke="#666" stroke-width="0.4"/>
<rect x="723.47" y="664.3" width="3.7" height="16.15" fill="#808080" stroke="#666" stroke-width="0.4"/>
<rect x="728.56" y="625.84" width="3.7" height="38.46" fill="#808080" stroke="#666" stroke-width="0.4"/>
<rect x="733.65" y="664.3" width="3.7" height="3.66" fill="#808080" stroke="#666" stroke-width="0.4"/>
<rect x="738.74" y="663.63" width="3.7" height="0.67" fill="#808080" stroke="#666" stroke-width="0.4"/>
<rect x="743.83" y="664.3" width="3.7" height="10.66" fill="#808080" stroke="#666" stroke-width="0.4"/>
<rect x="748.92" y="664.3" width="3.7" height="7.66" fill="#808080" stroke="#666" stroke-width="0.4"/>
<rect x="754.01" y="664.3" width="3.7" height="4.33" fill="#808080" stroke="#666" stroke-width="0.4"/>
<rect x="764.19" y="641.49" width="3.7" height="22.81" fill="#808080" stroke="#666" stroke-width="0.4"/>
<rect x="769.29" y="664.3" width="3.7" height="7.99" fill="#808080" stroke="#666" stroke-width="0.4"/>
<rect x="774.38" y="664.3" width="3.7" height="13.32" fill="#808080" stroke="#666" stroke-width="0.4"/>
<rect x="779.47" y="664.3" width="3.7" height="16.15" fill="#808080" stroke="#666" stroke-width="0.4"/>
<rect x="789.65" y="645.98" width="3.7" height="18.32" fill="#808080" stroke="#666" stroke-width="0.4"/>
<rect x="794.74" y="664.3" width="3.7" height="14.49" fill="#808080" stroke="#666" stroke-width="0.4"/>
<rect x="804.92" y="664.3" width="3.7" height="15.15" fill="#808080" stroke="#666" stroke-width="0.4"/>
<rect x="845.65" y="628.67" width="3.7" height="35.63" fill="#808080" stroke="#666" stroke-width="0.4"/>
<rect x="850.74" y="594.54" width="3.7" height="69.76" fill="#808080" stroke="#666" stroke-width="0.4"/>
<rect x="855.83" y="664.3" width="3.7" height="8.16" fill="#808080" stroke="#666" stroke-width="0.4"/>
<rect x="860.92" y="664.3" width="3.7" height="13.82" fill="#808080" stroke="#666" stroke-width="0.4"/>
<rect x="866.01" y="664.3" width="3.7" height="5.99" fill="#808080" stroke="#666" stroke-width="0.4"/>
<rect x="871.11" y="664.3" width="3.7" height="2" fill="#808080" stroke="#666" stroke-width="0.4"/>
<rect x="876.2" y="664.3" width="3.7" height="9.99" fill="#808080" stroke="#666" stroke-width="0.4"/>
<rect x="881.29" y="664.3" width="3.7" height="2.33" fill="#808080" stroke="#666" stroke-width="0.4"/>
<rect x="886.38" y="658.31" width="3.7" height="5.99" fill="#808080" stroke="#666" stroke-width="0.4"/>
<rect x="891.47" y="664.3" width="3.7" height="16.15" fill="#808080" stroke="#666" stroke-width="0.4"/>
<rect x="896.56" y="664.3" width="3.7" height="16.15" fill="#808080" stroke="#666" stroke-width="0.4"/>
<rect x="901.65" y="664.3" width="3.7" height="16.15" fill="#808080" stroke="#666" stroke-width="0.4"/>
<rect x="906.74" y="664.3" width="3.7" height="7.16" fill="#808080" stroke="#666" stroke-width="0.4"/>
<rect x="911.83" y="646.82" width="3.7" height="17.48" fill="#808080" stroke="#666" stroke-width="0.4"/>
<rect x="916.92" y="663.97" width="3.7" height="0.33" fill="#808080" stroke="#666" stroke-width="0.4"/>
<rect x="922.01" y="664.3" width="3.7" height="16.15" fill="#808080" stroke="#666" stroke-width="0.4"/>
<rect x="927.11" y="652.15" width="3.7" height="12.15" fill="#808080" stroke="#666" stroke-width="0.4"/>
<rect x="932.2" y="664.3" width="3.7" height="5.49" fill="#808080" stroke="#666" stroke-width="0.4"/>
<rect x="937.29" y="662.63" width="3.7" height="1.66" fill="#808080" stroke="#666" stroke-width="0.4"/>
<rect x="942.38" y="646.82" width="3.7" height="17.48" fill="#808080" stroke="#666" stroke-width="0.4"/>
<rect x="947.47" y="615.35" width="3.7" height="48.95" fill="#808080" stroke="#666" stroke-width="0.4"/>
<rect x="952.56" y="664.3" width="3.7" height="7.49" fill="#808080" stroke="#666" stroke-width="0.4"/>
<rect x="957.65" y="664.3" width="3.7" height="10.82" fill="#808080" stroke="#666" stroke-width="0.4"/>
<rect x="962.74" y="664.3" width="3.7" height="15.15" fill="#808080" stroke="#666" stroke-width="0.4"/>
<rect x="967.83" y="664.3" width="3.7" height="12.15" fill="#808080" stroke="#666" stroke-width="0.4"/>
<rect x="978.02" y="664.3" width="3.7" height="16.15" fill="#808080" stroke="#666" stroke-width="0.4"/>
<rect x="983.11" y="664.3" width="3.7" height="16.15" fill="#808080" stroke="#666" stroke-width="0.4"/>
<rect x="988.2" y="664.3" width="3.7" height="8.16" fill="#808080" stroke="#666" stroke-width="0.4"/>
<rect x="993.29" y="664.3" width="3.7" height="9.49" fill="#808080" stroke="#666" stroke-width="0.4"/>
<rect x="998.38" y="656.81" width="3.7" height="7.49" fill="#808080" stroke="#666" stroke-width="0.4"/>
<rect x="1003.47" y="664.3" width="3.7" height="4.66" fill="#808080" stroke="#666" stroke-width="0.4"/>
<rect x="1008.56" y="662.3" width="3.7" height="2" fill="#808080" stroke="#666" stroke-width="0.4"/>
<rect x="1013.65" y="664.3" width="3.7" height="10.16" fill="#808080" stroke="#666" stroke-width="0.4"/>
<rect x="1018.74" y="664.3" width="3.7" height="16.15" fill="#808080" stroke="#666" stroke-width="0.4"/>
<rect x="1023.84" y="664.3" width="3.7" height="16.15" fill="#808080" stroke="#666" stroke-width="0.4"/>
<rect x="1028.93" y="664.3" width="3.7" height="16.15" fill="#808080" stroke="#666" stroke-width="0.4"/>
<rect x="1034.02" y="644.49" width="3.7" height="19.81" fill="#808080" stroke="#666" stroke-width="0.4"/>
<rect x="1039.11" y="664.3" width="3.7" height="16.15" fill="#808080" stroke="#666" stroke-width="0.4"/>
<rect x="1044.2" y="664.3" width="3.7" height="16.15" fill="#808080" stroke="#666" stroke-width="0.4"/>
<rect x="1049.29" y="664.3" width="3.7" height="7.49" fill="#808080" stroke="#666" stroke-width="0.4"/>
<rect x="1054.38" y="664.3" width="3.7" height="6.66" fill="#808080" stroke="#666" stroke-width="0.4"/>
<rect x="1059.47" y="664.3" width="3.7" height="16.15" fill="#808080" stroke="#666" stroke-width="0.4"/>
<rect x="1064.56" y="635.83" width="3.7" height="28.47" fill="#808080" stroke="#666" stroke-width="0.4"/>
<rect x="1069.65" y="664.3" width="3.7" height="5.33" fill="#808080" stroke="#666" stroke-width="0.4"/>
<rect x="1074.74" y="664.3" width="3.7" height="12.32" fill="#808080" stroke="#666" stroke-width="0.4"/>
<rect x="1079.84" y="664.3" width="3.7" height="16.15" fill="#808080" stroke="#666" stroke-width="0.4"/>
<rect x="1084.93" y="664.3" width="3.7" height="16.15" fill="#808080" stroke="#666" stroke-width="0.4"/>
<rect x="1090.02" y="664.3" width="3.7" height="16.15" fill="#808080" stroke="#666" stroke-width="0.4"/>
<rect x="1095.11" y="664.3" width="3.7" height="16.15" fill="#808080" stroke="#666" stroke-width="0.4"/>
<rect x="1100.2" y="601.36" width="3.7" height="62.94" fill="#808080" stroke="#666" stroke-width="0.4"/>
<rect x="1105.29" y="632.66" width="3.7" height="31.63" fill="#808080" stroke="#666" stroke-width="0.4"/>
<rect x="1110.38" y="649.48" width="3.7" height="14.82" fill="#808080" stroke="#666" stroke-width="0.4"/>
<rect x="1115.47" y="638.33" width="3.7" height="25.97" fill="#808080" stroke="#666" stroke-width="0.4"/>
<rect x="1120.56" y="637.83" width="3.7" height="26.47" fill="#808080" stroke="#666" stroke-width="0.4"/>
<rect x="1125.65" y="624.84" width="3.7" height="39.46" fill="#808080" stroke="#666" stroke-width="0.4"/>
<rect x="1130.75" y="613.02" width="3.7" height="51.28" fill="#808080" stroke="#666" stroke-width="0.4"/>
<rect x="1135.84" y="664.3" width="3.7" height="9.16" fill="#808080" stroke="#666" stroke-width="0.4"/>
<rect x="1140.93" y="664.3" width="3.7" height="16.15" fill="#808080" stroke="#666" stroke-width="0.4"/>
<rect x="1146.02" y="664.3" width="3.7" height="16.15" fill="#808080" stroke="#666" stroke-width="0.4"/>
<rect x="1151.11" y="529.93" width="3.7" height="134.37" fill="#808080" stroke="#666" stroke-width="0.4"/>
<rect x="1156.2" y="642.49" width="3.7" height="21.81" fill="#808080" stroke="#666" stroke-width="0.4"/>
<rect x="1161.29" y="646.48" width="3.7" height="17.82" fill="#808080" stroke="#666" stroke-width="0.4"/>
<rect x="1166.38" y="650.98" width="3.7" height="13.32" fill="#808080" stroke="#666" stroke-width="0.4"/>
<rect x="1171.47" y="649.98" width="3.7" height="14.32" fill="#808080" stroke="#666" stroke-width="0.4"/>
<rect x="1176.57" y="640.66" width="3.7" height="23.64" fill="#808080" stroke="#666" stroke-width="0.4"/>
<rect x="1181.66" y="633.83" width="3.7" height="30.47" fill="#808080" stroke="#666" stroke-width="0.4"/>
<rect x="1186.75" y="627.84" width="3.7" height="36.46" fill="#808080" stroke="#666" stroke-width="0.4"/>
<rect x="1191.84" y="661.64" width="3.7" height="2.66" fill="#808080" stroke="#666" stroke-width="0.4"/>
<rect x="1196.93" y="664.3" width="3.7" height="4.33" fill="#808080" stroke="#666" stroke-width="0.4"/>
<rect x="1202.02" y="664.3" width="3.7" height="16.15" fill="#808080" stroke="#666" stroke-width="0.4"/>
<rect x="1207.11" y="664.3" width="3.7" height="16.15" fill="#808080" stroke="#666" stroke-width="0.4"/>
<rect x="1212.2" y="664.3" width="3.7" height="12.82" fill="#808080" stroke="#666" stroke-width="0.4"/>
<rect x="1217.29" y="648.82" width="3.7" height="15.48" fill="#808080" stroke="#666" stroke-width="0.4"/>
<rect x="1222.38" y="655.14" width="3.7" height="9.16" fill="#808080" stroke="#666" stroke-width="0.4"/>
<rect x="1227.48" y="664.3" width="3.7" height="16.15" fill="#808080" stroke="#666" stroke-width="0.4"/>
<rect x="1232.57" y="659.8" width="3.7" height="4.5" fill="#808080" stroke="#666" stroke-width="0.4"/>
<rect x="1237.66" y="663.8" width="3.7" height="0.5" fill="#808080" stroke="#666" stroke-width="0.4"/>
<line x1="83.5" y1="664.3" x2="1239.6" y2="664.3" stroke="#000" stroke-width="2"/>
<g clip-path="url(#clipA)">
<polyline points="88.59,669.13 93.68,673.18" fill="none" stroke="#FF0000" stroke-width="1.6" stroke-linejoin="round"/>
<polyline points="103.86,678.12 108.95,682.67" fill="none" stroke="#FF0000" stroke-width="1.6" stroke-linejoin="round"/>
<polyline points="144.59,689.11 149.68,688.66 154.77,681.89 159.87,687.94 164.96,692.77 170.05,689" fill="none" stroke="#FF0000" stroke-width="1.6" stroke-linejoin="round"/>
<polyline points="205.68,663.86 210.78,638.99 215.87,635.27" fill="none" stroke="#FF0000" stroke-width="1.6" stroke-linejoin="round"/>
<polyline points="236.23,645.04 241.32,620.23" fill="none" stroke="#FF0000" stroke-width="1.6" stroke-linejoin="round"/>
<polyline points="251.5,602.92 256.59,579.55 261.69,584.38 266.78,585.88 271.87,577.16" fill="none" stroke="#FF0000" stroke-width="1.6" stroke-linejoin="round"/>
<polyline points="312.6,580.33 317.69,579.55" fill="none" stroke="#FF0000" stroke-width="1.6" stroke-linejoin="round"/>
<polyline points="338.05,576.55 343.14,579.55 348.23,584.49 353.32,589.82 358.41,595.37 363.5,596.15 368.6,601.09" fill="none" stroke="#FF0000" stroke-width="1.6" stroke-linejoin="round"/>
<polyline points="378.78,606.69 383.87,611.63 388.96,613.91 394.05,616.01 399.14,615.68 404.23,619.18 409.32,623.95 414.42,627.73 419.51,616.46 424.6,595.81 429.69,600.92 434.78,606.69" fill="none" stroke="#FF0000" stroke-width="1.6" stroke-linejoin="round"/>
<polyline points="475.51,615.85 480.6,602.31 485.69,605.3 490.78,608.58 495.87,613.85 500.96,618.85 506.05,623.34 511.14,626.34 516.24,628.17 521.33,631.5" fill="none" stroke="#FF0000" stroke-width="1.6" stroke-linejoin="round"/>
<polyline points="531.51,636.44 536.6,641.71 541.69,646.98 546.78,652.26 551.87,657.47" fill="none" stroke="#FF0000" stroke-width="1.6" stroke-linejoin="round"/>
<polyline points="562.05,661.25 567.14,662.75" fill="none" stroke="#FF0000" stroke-width="1.6" stroke-linejoin="round"/>
<polyline points="577.33,666.52 582.42,662.02 587.51,669.13 592.6,674.07 597.69,675.12 602.78,680.12 607.87,684.61" fill="none" stroke="#FF0000" stroke-width="1.6" stroke-linejoin="round"/>
<polyline points="618.06,690.16 623.15,695.1 628.24,698.54 633.33,700.65 638.42,700.65 643.51,698.88 648.6,704.15 653.69,709.53 658.78,714.8 663.87,719.8 668.97,725.35 674.06,730.29 679.15,735.84 684.24,741.11 689.33,745.33 694.42,746.83" fill="none" stroke="#FF0000" stroke-width="1.6" stroke-linejoin="round"/>
<polyline points="704.6,742 709.69,747.55 714.78,752.54 719.88,755.1 724.97,760.09 730.06,746.55 735.15,748.05 740.24,747.55 745.33,751.05 750.42,753.88 755.51,755.1" fill="none" stroke="#FF0000" stroke-width="1.6" stroke-linejoin="round"/>
<polyline points="765.69,747.33 770.79,749.88 775.88,754.38 780.97,759.93" fill="none" stroke="#FF0000" stroke-width="1.6" stroke-linejoin="round"/>
<polyline points="791.15,752.88 796.24,758.15" fill="none" stroke="#FF0000" stroke-width="1.6" stroke-linejoin="round"/>
<polyline points="847.15,750.55 852.24,726.96 857.33,729.35 862.42,734.45 867.51,736.45 872.61,736.89 877.7,740.17 882.79,740.67 887.88,738.39 892.97,743.66 898.06,749.21 903.15,754.21 908.24,756.76 913.33,750.27 918.42,749.99 923.51,755.26 928.61,750.71 933.7,752.71 938.79,752.21 943.88,745.77 948.97,729.35 954.06,731.9 959.15,735.34 964.24,740.17 969.33,743.94" fill="none" stroke="#FF0000" stroke-width="1.6" stroke-linejoin="round"/>
<polyline points="979.52,749.21 984.61,754.49 989.7,757.21 994.79,760.2 999.88,757.21 1004.97,758.71 1010.06,757.93 1015.15,761.26 1020.24,766.53 1025.34,771.8 1030.43,777.08 1035.52,770.03 1040.61,774.91 1045.7,780.29 1050.79,782.79 1055.88,785.18 1060.97,790.01 1066.06,779.74 1071.15,782.07 1076.24,785.68 1081.34,791.12 1086.43,796.83 1091.52,802.27 1096.61,807.32 1101.7,785.68 1106.79,775.24 1111.88,769.86 1116.97,761.37 1122.06,752.38 1127.15,738.89 1132.25,721.24 1137.34,724.46 1142.43,729.35 1147.52,735.28 1152.61,689.83 1157.7,682.73 1162.79,676.62 1167.88,671.74 1172.97,667.07 1178.07,658.69 1183.16,648.2 1188.25,636.22 1193.34,634.39 1198.43,636.22 1203.52,641.6 1208.61,646.98 1213.7,650.59 1218.79,645.21 1223.88,642.1 1228.98,646.98 1234.07,645.21 1239.16,645.21" fill="none" stroke="#FF0000" stroke-width="1.6" stroke-linejoin="round"/>
<circle cx="88.59" cy="669.13" r="2.6" fill="#FF0000"/>
<circle cx="93.68" cy="673.18" r="2.6" fill="#FF0000"/>
<circle cx="103.86" cy="678.12" r="2.6" fill="#FF0000"/>
<circle cx="108.95" cy="682.67" r="2.6" fill="#FF0000"/>
<circle cx="119.14" cy="682.67" r="2.6" fill="#FF0000"/>
<circle cx="129.32" cy="686.89" r="2.6" fill="#FF0000"/>
<circle cx="144.59" cy="689.11" r="2.6" fill="#FF0000"/>
<circle cx="149.68" cy="688.66" r="2.6" fill="#FF0000"/>
<circle cx="154.77" cy="681.89" r="2.6" fill="#FF0000"/>
<circle cx="159.87" cy="687.94" r="2.6" fill="#FF0000"/>
<circle cx="164.96" cy="692.77" r="2.6" fill="#FF0000"/>
<circle cx="170.05" cy="689" r="2.6" fill="#FF0000"/>
<circle cx="185.32" cy="666.85" r="2.6" fill="#FF0000"/>
<circle cx="195.5" cy="665.02" r="2.6" fill="#FF0000"/>
<circle cx="205.68" cy="663.86" r="2.6" fill="#FF0000"/>
<circle cx="210.78" cy="638.99" r="2.6" fill="#FF0000"/>
<circle cx="215.87" cy="635.27" r="2.6" fill="#FF0000"/>
<circle cx="226.05" cy="640.99" r="2.6" fill="#FF0000"/>
<circle cx="236.23" cy="645.04" r="2.6" fill="#FF0000"/>
<circle cx="241.32" cy="620.23" r="2.6" fill="#FF0000"/>
<circle cx="251.5" cy="602.92" r="2.6" fill="#FF0000"/>
<circle cx="256.59" cy="579.55" r="2.6" fill="#FF0000"/>
<circle cx="261.69" cy="584.38" r="2.6" fill="#FF0000"/>
<circle cx="266.78" cy="585.88" r="2.6" fill="#FF0000"/>
<circle cx="271.87" cy="577.16" r="2.6" fill="#FF0000"/>
<circle cx="297.32" cy="579.27" r="2.6" fill="#FF0000"/>
<circle cx="312.6" cy="580.33" r="2.6" fill="#FF0000"/>
<circle cx="317.69" cy="579.55" r="2.6" fill="#FF0000"/>
<circle cx="327.87" cy="583.33" r="2.6" fill="#FF0000"/>
<circle cx="338.05" cy="576.55" r="2.6" fill="#FF0000"/>
<circle cx="343.14" cy="579.55" r="2.6" fill="#FF0000"/>
<circle cx="348.23" cy="584.49" r="2.6" fill="#FF0000"/>
<circle cx="353.32" cy="589.82" r="2.6" fill="#FF0000"/>
<circle cx="358.41" cy="595.37" r="2.6" fill="#FF0000"/>
<circle cx="363.5" cy="596.15" r="2.6" fill="#FF0000"/>
<circle cx="368.6" cy="601.09" r="2.6" fill="#FF0000"/>
<circle cx="378.78" cy="606.69" r="2.6" fill="#FF0000"/>
<circle cx="383.87" cy="611.63" r="2.6" fill="#FF0000"/>
<circle cx="388.96" cy="613.91" r="2.6" fill="#FF0000"/>
<circle cx="394.05" cy="616.01" r="2.6" fill="#FF0000"/>
<circle cx="399.14" cy="615.68" r="2.6" fill="#FF0000"/>
<circle cx="404.23" cy="619.18" r="2.6" fill="#FF0000"/>
<circle cx="409.32" cy="623.95" r="2.6" fill="#FF0000"/>
<circle cx="414.42" cy="627.73" r="2.6" fill="#FF0000"/>
<circle cx="419.51" cy="616.46" r="2.6" fill="#FF0000"/>
<circle cx="424.6" cy="595.81" r="2.6" fill="#FF0000"/>
<circle cx="429.69" cy="600.92" r="2.6" fill="#FF0000"/>
<circle cx="434.78" cy="606.69" r="2.6" fill="#FF0000"/>
<circle cx="444.96" cy="610.41" r="2.6" fill="#FF0000"/>
<circle cx="475.51" cy="615.85" r="2.6" fill="#FF0000"/>
<circle cx="480.6" cy="602.31" r="2.6" fill="#FF0000"/>
<circle cx="485.69" cy="605.3" r="2.6" fill="#FF0000"/>
<circle cx="490.78" cy="608.58" r="2.6" fill="#FF0000"/>
<circle cx="495.87" cy="613.85" r="2.6" fill="#FF0000"/>
<circle cx="500.96" cy="618.85" r="2.6" fill="#FF0000"/>
<circle cx="506.05" cy="623.34" r="2.6" fill="#FF0000"/>
<circle cx="511.14" cy="626.34" r="2.6" fill="#FF0000"/>
<circle cx="516.24" cy="628.17" r="2.6" fill="#FF0000"/>
<circle cx="521.33" cy="631.5" r="2.6" fill="#FF0000"/>
<circle cx="531.51" cy="636.44" r="2.6" fill="#FF0000"/>
<circle cx="536.6" cy="641.71" r="2.6" fill="#FF0000"/>
<circle cx="541.69" cy="646.98" r="2.6" fill="#FF0000"/>
<circle cx="546.78" cy="652.26" r="2.6" fill="#FF0000"/>
<circle cx="551.87" cy="657.47" r="2.6" fill="#FF0000"/>
<circle cx="562.05" cy="661.25" r="2.6" fill="#FF0000"/>
<circle cx="567.14" cy="662.75" r="2.6" fill="#FF0000"/>
<circle cx="577.33" cy="666.52" r="2.6" fill="#FF0000"/>
<circle cx="582.42" cy="662.02" r="2.6" fill="#FF0000"/>
<circle cx="587.51" cy="669.13" r="2.6" fill="#FF0000"/>
<circle cx="592.6" cy="674.07" r="2.6" fill="#FF0000"/>
<circle cx="597.69" cy="675.12" r="2.6" fill="#FF0000"/>
<circle cx="602.78" cy="680.12" r="2.6" fill="#FF0000"/>
<circle cx="607.87" cy="684.61" r="2.6" fill="#FF0000"/>
<circle cx="618.06" cy="690.16" r="2.6" fill="#FF0000"/>
<circle cx="623.15" cy="695.1" r="2.6" fill="#FF0000"/>
<circle cx="628.24" cy="698.54" r="2.6" fill="#FF0000"/>
<circle cx="633.33" cy="700.65" r="2.6" fill="#FF0000"/>
<circle cx="638.42" cy="700.65" r="2.6" fill="#FF0000"/>
<circle cx="643.51" cy="698.88" r="2.6" fill="#FF0000"/>
<circle cx="648.6" cy="704.15" r="2.6" fill="#FF0000"/>
<circle cx="653.69" cy="709.53" r="2.6" fill="#FF0000"/>
<circle cx="658.78" cy="714.8" r="2.6" fill="#FF0000"/>
<circle cx="663.87" cy="719.8" r="2.6" fill="#FF0000"/>
<circle cx="668.97" cy="725.35" r="2.6" fill="#FF0000"/>
<circle cx="674.06" cy="730.29" r="2.6" fill="#FF0000"/>
<circle cx="679.15" cy="735.84" r="2.6" fill="#FF0000"/>
<circle cx="684.24" cy="741.11" r="2.6" fill="#FF0000"/>
<circle cx="689.33" cy="745.33" r="2.6" fill="#FF0000"/>
<circle cx="694.42" cy="746.83" r="2.6" fill="#FF0000"/>
<circle cx="704.6" cy="742" r="2.6" fill="#FF0000"/>
<circle cx="709.69" cy="747.55" r="2.6" fill="#FF0000"/>
<circle cx="714.78" cy="752.54" r="2.6" fill="#FF0000"/>
<circle cx="719.88" cy="755.1" r="2.6" fill="#FF0000"/>
<circle cx="724.97" cy="760.09" r="2.6" fill="#FF0000"/>
<circle cx="730.06" cy="746.55" r="2.6" fill="#FF0000"/>
<circle cx="735.15" cy="748.05" r="2.6" fill="#FF0000"/>
<circle cx="740.24" cy="747.55" r="2.6" fill="#FF0000"/>
<circle cx="745.33" cy="751.05" r="2.6" fill="#FF0000"/>
<circle cx="750.42" cy="753.88" r="2.6" fill="#FF0000"/>
<circle cx="755.51" cy="755.1" r="2.6" fill="#FF0000"/>
<circle cx="765.69" cy="747.33" r="2.6" fill="#FF0000"/>
<circle cx="770.79" cy="749.88" r="2.6" fill="#FF0000"/>
<circle cx="775.88" cy="754.38" r="2.6" fill="#FF0000"/>
<circle cx="780.97" cy="759.93" r="2.6" fill="#FF0000"/>
<circle cx="791.15" cy="752.88" r="2.6" fill="#FF0000"/>
<circle cx="796.24" cy="758.15" r="2.6" fill="#FF0000"/>
<circle cx="806.42" cy="762.65" r="2.6" fill="#FF0000"/>
<circle cx="847.15" cy="750.55" r="2.6" fill="#FF0000"/>
<circle cx="852.24" cy="726.96" r="2.6" fill="#FF0000"/>
<circle cx="857.33" cy="729.35" r="2.6" fill="#FF0000"/>
<circle cx="862.42" cy="734.45" r="2.6" fill="#FF0000"/>
<circle cx="867.51" cy="736.45" r="2.6" fill="#FF0000"/>
<circle cx="872.61" cy="736.89" r="2.6" fill="#FF0000"/>
<circle cx="877.7" cy="740.17" r="2.6" fill="#FF0000"/>
<circle cx="882.79" cy="740.67" r="2.6" fill="#FF0000"/>
<circle cx="887.88" cy="738.39" r="2.6" fill="#FF0000"/>
<circle cx="892.97" cy="743.66" r="2.6" fill="#FF0000"/>
<circle cx="898.06" cy="749.21" r="2.6" fill="#FF0000"/>
<circle cx="903.15" cy="754.21" r="2.6" fill="#FF0000"/>
<circle cx="908.24" cy="756.76" r="2.6" fill="#FF0000"/>
<circle cx="913.33" cy="750.27" r="2.6" fill="#FF0000"/>
<circle cx="918.42" cy="749.99" r="2.6" fill="#FF0000"/>
<circle cx="923.51" cy="755.26" r="2.6" fill="#FF0000"/>
<circle cx="928.61" cy="750.71" r="2.6" fill="#FF0000"/>
<circle cx="933.7" cy="752.71" r="2.6" fill="#FF0000"/>
<circle cx="938.79" cy="752.21" r="2.6" fill="#FF0000"/>
<circle cx="943.88" cy="745.77" r="2.6" fill="#FF0000"/>
<circle cx="948.97" cy="729.35" r="2.6" fill="#FF0000"/>
<circle cx="954.06" cy="731.9" r="2.6" fill="#FF0000"/>
<circle cx="959.15" cy="735.34" r="2.6" fill="#FF0000"/>
<circle cx="964.24" cy="740.17" r="2.6" fill="#FF0000"/>
<circle cx="969.33" cy="743.94" r="2.6" fill="#FF0000"/>
<circle cx="979.52" cy="749.21" r="2.6" fill="#FF0000"/>
<circle cx="984.61" cy="754.49" r="2.6" fill="#FF0000"/>
<circle cx="989.7" cy="757.21" r="2.6" fill="#FF0000"/>
<circle cx="994.79" cy="760.2" r="2.6" fill="#FF0000"/>
<circle cx="999.88" cy="757.21" r="2.6" fill="#FF0000"/>
<circle cx="1004.97" cy="758.71" r="2.6" fill="#FF0000"/>
<circle cx="1010.06" cy="757.93" r="2.6" fill="#FF0000"/>
<circle cx="1015.15" cy="761.26" r="2.6" fill="#FF0000"/>
<circle cx="1020.24" cy="766.53" r="2.6" fill="#FF0000"/>
<circle cx="1025.34" cy="771.8" r="2.6" fill="#FF0000"/>
<circle cx="1030.43" cy="777.08" r="2.6" fill="#FF0000"/>
<circle cx="1035.52" cy="770.03" r="2.6" fill="#FF0000"/>
<circle cx="1040.61" cy="774.91" r="2.6" fill="#FF0000"/>
<circle cx="1045.7" cy="780.29" r="2.6" fill="#FF0000"/>
<circle cx="1050.79" cy="782.79" r="2.6" fill="#FF0000"/>
<circle cx="1055.88" cy="785.18" r="2.6" fill="#FF0000"/>
<circle cx="1060.97" cy="790.01" r="2.6" fill="#FF0000"/>
<circle cx="1066.06" cy="779.74" r="2.6" fill="#FF0000"/>
<circle cx="1071.15" cy="782.07" r="2.6" fill="#FF0000"/>
<circle cx="1076.24" cy="785.68" r="2.6" fill="#FF0000"/>
<circle cx="1081.34" cy="791.12" r="2.6" fill="#FF0000"/>
<circle cx="1086.43" cy="796.83" r="2.6" fill="#FF0000"/>
<circle cx="1091.52" cy="802.27" r="2.6" fill="#FF0000"/>
<circle cx="1096.61" cy="807.32" r="2.6" fill="#FF0000"/>
<circle cx="1101.7" cy="785.68" r="2.6" fill="#FF0000"/>
<circle cx="1106.79" cy="775.24" r="2.6" fill="#FF0000"/>
<circle cx="1111.88" cy="769.86" r="2.6" fill="#FF0000"/>
<circle cx="1116.97" cy="761.37" r="2.6" fill="#FF0000"/>
<circle cx="1122.06" cy="752.38" r="2.6" fill="#FF0000"/>
<circle cx="1127.15" cy="738.89" r="2.6" fill="#FF0000"/>
<circle cx="1132.25" cy="721.24" r="2.6" fill="#FF0000"/>
<circle cx="1137.34" cy="724.46" r="2.6" fill="#FF0000"/>
<circle cx="1142.43" cy="729.35" r="2.6" fill="#FF0000"/>
<circle cx="1147.52" cy="735.28" r="2.6" fill="#FF0000"/>
<circle cx="1152.61" cy="689.83" r="2.6" fill="#FF0000"/>
<circle cx="1157.7" cy="682.73" r="2.6" fill="#FF0000"/>
<circle cx="1162.79" cy="676.62" r="2.6" fill="#FF0000"/>
<circle cx="1167.88" cy="671.74" r="2.6" fill="#FF0000"/>
<circle cx="1172.97" cy="667.07" r="2.6" fill="#FF0000"/>
<circle cx="1178.07" cy="658.69" r="2.6" fill="#FF0000"/>
<circle cx="1183.16" cy="648.2" r="2.6" fill="#FF0000"/>
<circle cx="1188.25" cy="636.22" r="2.6" fill="#FF0000"/>
<circle cx="1193.34" cy="634.39" r="2.6" fill="#FF0000"/>
<circle cx="1198.43" cy="636.22" r="2.6" fill="#FF0000"/>
<circle cx="1203.52" cy="641.6" r="2.6" fill="#FF0000"/>
<circle cx="1208.61" cy="646.98" r="2.6" fill="#FF0000"/>
<circle cx="1213.7" cy="650.59" r="2.6" fill="#FF0000"/>
<circle cx="1218.79" cy="645.21" r="2.6" fill="#FF0000"/>
<circle cx="1223.88" cy="642.1" r="2.6" fill="#FF0000"/>
<circle cx="1228.98" cy="646.98" r="2.6" fill="#FF0000"/>
<circle cx="1234.07" cy="645.21" r="2.6" fill="#FF0000"/>
<circle cx="1239.16" cy="645.21" r="2.6" fill="#FF0000"/>
</g>
<line x1="83.5" y1="831.0" x2="1239.6" y2="831.0" stroke="#000" stroke-width="2"/>
<line x1="88.59" y1="831.0" x2="88.59" y2="826.1" stroke="#000" stroke-width="1.6"/>
<line x1="93.68" y1="831.0" x2="93.68" y2="826.1" stroke="#000" stroke-width="1.6"/>
<line x1="98.77" y1="831.0" x2="98.77" y2="826.1" stroke="#000" stroke-width="1.6"/>
<line x1="103.86" y1="831.0" x2="103.86" y2="826.1" stroke="#000" stroke-width="1.6"/>
<line x1="108.95" y1="831.0" x2="108.95" y2="821.2" stroke="#000" stroke-width="1.9"/>
<line x1="114.05" y1="831.0" x2="114.05" y2="826.1" stroke="#000" stroke-width="1.6"/>
<line x1="119.14" y1="831.0" x2="119.14" y2="826.1" stroke="#000" stroke-width="1.6"/>
<line x1="124.23" y1="831.0" x2="124.23" y2="826.1" stroke="#000" stroke-width="1.6"/>
<line x1="129.32" y1="831.0" x2="129.32" y2="826.1" stroke="#000" stroke-width="1.6"/>
<line x1="134.41" y1="831.0" x2="134.41" y2="826.1" stroke="#000" stroke-width="1.6"/>
<line x1="139.5" y1="831.0" x2="139.5" y2="821.2" stroke="#000" stroke-width="1.9"/>
<line x1="144.59" y1="831.0" x2="144.59" y2="826.1" stroke="#000" stroke-width="1.6"/>
<line x1="149.68" y1="831.0" x2="149.68" y2="826.1" stroke="#000" stroke-width="1.6"/>
<line x1="154.77" y1="831.0" x2="154.77" y2="826.1" stroke="#000" stroke-width="1.6"/>
<line x1="159.87" y1="831.0" x2="159.87" y2="826.1" stroke="#000" stroke-width="1.6"/>
<line x1="164.96" y1="831.0" x2="164.96" y2="826.1" stroke="#000" stroke-width="1.6"/>
<line x1="170.05" y1="831.0" x2="170.05" y2="821.2" stroke="#000" stroke-width="1.9"/>
<line x1="175.14" y1="831.0" x2="175.14" y2="826.1" stroke="#000" stroke-width="1.6"/>
<line x1="180.23" y1="831.0" x2="180.23" y2="826.1" stroke="#000" stroke-width="1.6"/>
<line x1="185.32" y1="831.0" x2="185.32" y2="826.1" stroke="#000" stroke-width="1.6"/>
<line x1="190.41" y1="831.0" x2="190.41" y2="826.1" stroke="#000" stroke-width="1.6"/>
<line x1="195.5" y1="831.0" x2="195.5" y2="826.1" stroke="#000" stroke-width="1.6"/>
<line x1="200.59" y1="831.0" x2="200.59" y2="821.2" stroke="#000" stroke-width="1.9"/>
<line x1="205.68" y1="831.0" x2="205.68" y2="826.1" stroke="#000" stroke-width="1.6"/>
<line x1="210.78" y1="831.0" x2="210.78" y2="826.1" stroke="#000" stroke-width="1.6"/>
<line x1="215.87" y1="831.0" x2="215.87" y2="826.1" stroke="#000" stroke-width="1.6"/>
<line x1="220.96" y1="831.0" x2="220.96" y2="826.1" stroke="#000" stroke-width="1.6"/>
<line x1="226.05" y1="831.0" x2="226.05" y2="826.1" stroke="#000" stroke-width="1.6"/>
<line x1="231.14" y1="831.0" x2="231.14" y2="821.2" stroke="#000" stroke-width="1.9"/>
<line x1="236.23" y1="831.0" x2="236.23" y2="826.1" stroke="#000" stroke-width="1.6"/>
<line x1="241.32" y1="831.0" x2="241.32" y2="826.1" stroke="#000" stroke-width="1.6"/>
<line x1="246.41" y1="831.0" x2="246.41" y2="826.1" stroke="#000" stroke-width="1.6"/>
<line x1="251.5" y1="831.0" x2="251.5" y2="826.1" stroke="#000" stroke-width="1.6"/>
<line x1="256.59" y1="831.0" x2="256.59" y2="826.1" stroke="#000" stroke-width="1.6"/>
<line x1="261.69" y1="831.0" x2="261.69" y2="821.2" stroke="#000" stroke-width="1.9"/>
<line x1="266.78" y1="831.0" x2="266.78" y2="826.1" stroke="#000" stroke-width="1.6"/>
<line x1="271.87" y1="831.0" x2="271.87" y2="826.1" stroke="#000" stroke-width="1.6"/>
<line x1="276.96" y1="831.0" x2="276.96" y2="826.1" stroke="#000" stroke-width="1.6"/>
<line x1="282.05" y1="831.0" x2="282.05" y2="826.1" stroke="#000" stroke-width="1.6"/>
<line x1="287.14" y1="831.0" x2="287.14" y2="826.1" stroke="#000" stroke-width="1.6"/>
<line x1="292.23" y1="831.0" x2="292.23" y2="821.2" stroke="#000" stroke-width="1.9"/>
<line x1="297.32" y1="831.0" x2="297.32" y2="826.1" stroke="#000" stroke-width="1.6"/>
<line x1="302.41" y1="831.0" x2="302.41" y2="826.1" stroke="#000" stroke-width="1.6"/>
<line x1="307.5" y1="831.0" x2="307.5" y2="826.1" stroke="#000" stroke-width="1.6"/>
<line x1="312.6" y1="831.0" x2="312.6" y2="826.1" stroke="#000" stroke-width="1.6"/>
<line x1="317.69" y1="831.0" x2="317.69" y2="826.1" stroke="#000" stroke-width="1.6"/>
<line x1="322.78" y1="831.0" x2="322.78" y2="821.2" stroke="#000" stroke-width="1.9"/>
<line x1="327.87" y1="831.0" x2="327.87" y2="826.1" stroke="#000" stroke-width="1.6"/>
<line x1="332.96" y1="831.0" x2="332.96" y2="826.1" stroke="#000" stroke-width="1.6"/>
<line x1="338.05" y1="831.0" x2="338.05" y2="826.1" stroke="#000" stroke-width="1.6"/>
<line x1="343.14" y1="831.0" x2="343.14" y2="826.1" stroke="#000" stroke-width="1.6"/>
<line x1="348.23" y1="831.0" x2="348.23" y2="826.1" stroke="#000" stroke-width="1.6"/>
<line x1="353.32" y1="831.0" x2="353.32" y2="821.2" stroke="#000" stroke-width="1.9"/>
<line x1="358.41" y1="831.0" x2="358.41" y2="826.1" stroke="#000" stroke-width="1.6"/>
<line x1="363.5" y1="831.0" x2="363.5" y2="826.1" stroke="#000" stroke-width="1.6"/>
<line x1="368.6" y1="831.0" x2="368.6" y2="826.1" stroke="#000" stroke-width="1.6"/>
<line x1="373.69" y1="831.0" x2="373.69" y2="826.1" stroke="#000" stroke-width="1.6"/>
<line x1="378.78" y1="831.0" x2="378.78" y2="826.1" stroke="#000" stroke-width="1.6"/>
<line x1="383.87" y1="831.0" x2="383.87" y2="821.2" stroke="#000" stroke-width="1.9"/>
<line x1="388.96" y1="831.0" x2="388.96" y2="826.1" stroke="#000" stroke-width="1.6"/>
<line x1="394.05" y1="831.0" x2="394.05" y2="826.1" stroke="#000" stroke-width="1.6"/>
<line x1="399.14" y1="831.0" x2="399.14" y2="826.1" stroke="#000" stroke-width="1.6"/>
<line x1="404.23" y1="831.0" x2="404.23" y2="826.1" stroke="#000" stroke-width="1.6"/>
<line x1="409.32" y1="831.0" x2="409.32" y2="826.1" stroke="#000" stroke-width="1.6"/>
<line x1="414.42" y1="831.0" x2="414.42" y2="821.2" stroke="#000" stroke-width="1.9"/>
<line x1="419.51" y1="831.0" x2="419.51" y2="826.1" stroke="#000" stroke-width="1.6"/>
<line x1="424.6" y1="831.0" x2="424.6" y2="826.1" stroke="#000" stroke-width="1.6"/>
<line x1="429.69" y1="831.0" x2="429.69" y2="826.1" stroke="#000" stroke-width="1.6"/>
<line x1="434.78" y1="831.0" x2="434.78" y2="826.1" stroke="#000" stroke-width="1.6"/>
<line x1="439.87" y1="831.0" x2="439.87" y2="826.1" stroke="#000" stroke-width="1.6"/>
<line x1="444.96" y1="831.0" x2="444.96" y2="821.2" stroke="#000" stroke-width="1.9"/>
<line x1="450.05" y1="831.0" x2="450.05" y2="826.1" stroke="#000" stroke-width="1.6"/>
<line x1="455.14" y1="831.0" x2="455.14" y2="826.1" stroke="#000" stroke-width="1.6"/>
<line x1="460.23" y1="831.0" x2="460.23" y2="826.1" stroke="#000" stroke-width="1.6"/>
<line x1="465.32" y1="831.0" x2="465.32" y2="826.1" stroke="#000" stroke-width="1.6"/>
<line x1="470.42" y1="831.0" x2="470.42" y2="826.1" stroke="#000" stroke-width="1.6"/>
<line x1="475.51" y1="831.0" x2="475.51" y2="821.2" stroke="#000" stroke-width="1.9"/>
<line x1="480.6" y1="831.0" x2="480.6" y2="826.1" stroke="#000" stroke-width="1.6"/>
<line x1="485.69" y1="831.0" x2="485.69" y2="826.1" stroke="#000" stroke-width="1.6"/>
<line x1="490.78" y1="831.0" x2="490.78" y2="826.1" stroke="#000" stroke-width="1.6"/>
<line x1="495.87" y1="831.0" x2="495.87" y2="826.1" stroke="#000" stroke-width="1.6"/>
<line x1="500.96" y1="831.0" x2="500.96" y2="826.1" stroke="#000" stroke-width="1.6"/>
<line x1="506.05" y1="831.0" x2="506.05" y2="821.2" stroke="#000" stroke-width="1.9"/>
<line x1="511.14" y1="831.0" x2="511.14" y2="826.1" stroke="#000" stroke-width="1.6"/>
<line x1="516.24" y1="831.0" x2="516.24" y2="826.1" stroke="#000" stroke-width="1.6"/>
<line x1="521.33" y1="831.0" x2="521.33" y2="826.1" stroke="#000" stroke-width="1.6"/>
<line x1="526.42" y1="831.0" x2="526.42" y2="826.1" stroke="#000" stroke-width="1.6"/>
<line x1="531.51" y1="831.0" x2="531.51" y2="826.1" stroke="#000" stroke-width="1.6"/>
<line x1="536.6" y1="831.0" x2="536.6" y2="821.2" stroke="#000" stroke-width="1.9"/>
<line x1="541.69" y1="831.0" x2="541.69" y2="826.1" stroke="#000" stroke-width="1.6"/>
<line x1="546.78" y1="831.0" x2="546.78" y2="826.1" stroke="#000" stroke-width="1.6"/>
<line x1="551.87" y1="831.0" x2="551.87" y2="826.1" stroke="#000" stroke-width="1.6"/>
<line x1="556.96" y1="831.0" x2="556.96" y2="826.1" stroke="#000" stroke-width="1.6"/>
<line x1="562.05" y1="831.0" x2="562.05" y2="826.1" stroke="#000" stroke-width="1.6"/>
<line x1="567.14" y1="831.0" x2="567.14" y2="821.2" stroke="#000" stroke-width="1.9"/>
<line x1="572.24" y1="831.0" x2="572.24" y2="826.1" stroke="#000" stroke-width="1.6"/>
<line x1="577.33" y1="831.0" x2="577.33" y2="826.1" stroke="#000" stroke-width="1.6"/>
<line x1="582.42" y1="831.0" x2="582.42" y2="826.1" stroke="#000" stroke-width="1.6"/>
<line x1="587.51" y1="831.0" x2="587.51" y2="826.1" stroke="#000" stroke-width="1.6"/>
<line x1="592.6" y1="831.0" x2="592.6" y2="826.1" stroke="#000" stroke-width="1.6"/>
<line x1="597.69" y1="831.0" x2="597.69" y2="821.2" stroke="#000" stroke-width="1.9"/>
<line x1="602.78" y1="831.0" x2="602.78" y2="826.1" stroke="#000" stroke-width="1.6"/>
<line x1="607.87" y1="831.0" x2="607.87" y2="826.1" stroke="#000" stroke-width="1.6"/>
<line x1="612.96" y1="831.0" x2="612.96" y2="826.1" stroke="#000" stroke-width="1.6"/>
<line x1="618.06" y1="831.0" x2="618.06" y2="826.1" stroke="#000" stroke-width="1.6"/>
<line x1="623.15" y1="831.0" x2="623.15" y2="826.1" stroke="#000" stroke-width="1.6"/>
<line x1="628.24" y1="831.0" x2="628.24" y2="821.2" stroke="#000" stroke-width="1.9"/>
<line x1="633.33" y1="831.0" x2="633.33" y2="826.1" stroke="#000" stroke-width="1.6"/>
<line x1="638.42" y1="831.0" x2="638.42" y2="826.1" stroke="#000" stroke-width="1.6"/>
<line x1="643.51" y1="831.0" x2="643.51" y2="826.1" stroke="#000" stroke-width="1.6"/>
<line x1="648.6" y1="831.0" x2="648.6" y2="826.1" stroke="#000" stroke-width="1.6"/>
<line x1="653.69" y1="831.0" x2="653.69" y2="826.1" stroke="#000" stroke-width="1.6"/>
<line x1="658.78" y1="831.0" x2="658.78" y2="821.2" stroke="#000" stroke-width="1.9"/>
<line x1="663.87" y1="831.0" x2="663.87" y2="826.1" stroke="#000" stroke-width="1.6"/>
<line x1="668.97" y1="831.0" x2="668.97" y2="826.1" stroke="#000" stroke-width="1.6"/>
<line x1="674.06" y1="831.0" x2="674.06" y2="826.1" stroke="#000" stroke-width="1.6"/>
<line x1="679.15" y1="831.0" x2="679.15" y2="826.1" stroke="#000" stroke-width="1.6"/>
<line x1="684.24" y1="831.0" x2="684.24" y2="826.1" stroke="#000" stroke-width="1.6"/>
<line x1="689.33" y1="831.0" x2="689.33" y2="821.2" stroke="#000" stroke-width="1.9"/>
<line x1="694.42" y1="831.0" x2="694.42" y2="826.1" stroke="#000" stroke-width="1.6"/>
<line x1="699.51" y1="831.0" x2="699.51" y2="826.1" stroke="#000" stroke-width="1.6"/>
<line x1="704.6" y1="831.0" x2="704.6" y2="826.1" stroke="#000" stroke-width="1.6"/>
<line x1="709.69" y1="831.0" x2="709.69" y2="826.1" stroke="#000" stroke-width="1.6"/>
<line x1="714.78" y1="831.0" x2="714.78" y2="826.1" stroke="#000" stroke-width="1.6"/>
<line x1="719.88" y1="831.0" x2="719.88" y2="821.2" stroke="#000" stroke-width="1.9"/>
<line x1="724.97" y1="831.0" x2="724.97" y2="826.1" stroke="#000" stroke-width="1.6"/>
<line x1="730.06" y1="831.0" x2="730.06" y2="826.1" stroke="#000" stroke-width="1.6"/>
<line x1="735.15" y1="831.0" x2="735.15" y2="826.1" stroke="#000" stroke-width="1.6"/>
<line x1="740.24" y1="831.0" x2="740.24" y2="826.1" stroke="#000" stroke-width="1.6"/>
<line x1="745.33" y1="831.0" x2="745.33" y2="826.1" stroke="#000" stroke-width="1.6"/>
<line x1="750.42" y1="831.0" x2="750.42" y2="821.2" stroke="#000" stroke-width="1.9"/>
<line x1="755.51" y1="831.0" x2="755.51" y2="826.1" stroke="#000" stroke-width="1.6"/>
<line x1="760.6" y1="831.0" x2="760.6" y2="826.1" stroke="#000" stroke-width="1.6"/>
<line x1="765.69" y1="831.0" x2="765.69" y2="826.1" stroke="#000" stroke-width="1.6"/>
<line x1="770.79" y1="831.0" x2="770.79" y2="826.1" stroke="#000" stroke-width="1.6"/>
<line x1="775.88" y1="831.0" x2="775.88" y2="826.1" stroke="#000" stroke-width="1.6"/>
<line x1="780.97" y1="831.0" x2="780.97" y2="821.2" stroke="#000" stroke-width="1.9"/>
<line x1="786.06" y1="831.0" x2="786.06" y2="826.1" stroke="#000" stroke-width="1.6"/>
<line x1="791.15" y1="831.0" x2="791.15" y2="826.1" stroke="#000" stroke-width="1.6"/>
<line x1="796.24" y1="831.0" x2="796.24" y2="826.1" stroke="#000" stroke-width="1.6"/>
<line x1="801.33" y1="831.0" x2="801.33" y2="826.1" stroke="#000" stroke-width="1.6"/>
<line x1="806.42" y1="831.0" x2="806.42" y2="826.1" stroke="#000" stroke-width="1.6"/>
<line x1="811.51" y1="831.0" x2="811.51" y2="821.2" stroke="#000" stroke-width="1.9"/>
<line x1="816.6" y1="831.0" x2="816.6" y2="826.1" stroke="#000" stroke-width="1.6"/>
<line x1="821.7" y1="831.0" x2="821.7" y2="826.1" stroke="#000" stroke-width="1.6"/>
<line x1="826.79" y1="831.0" x2="826.79" y2="826.1" stroke="#000" stroke-width="1.6"/>
<line x1="831.88" y1="831.0" x2="831.88" y2="826.1" stroke="#000" stroke-width="1.6"/>
<line x1="836.97" y1="831.0" x2="836.97" y2="826.1" stroke="#000" stroke-width="1.6"/>
<line x1="842.06" y1="831.0" x2="842.06" y2="821.2" stroke="#000" stroke-width="1.9"/>
<line x1="847.15" y1="831.0" x2="847.15" y2="826.1" stroke="#000" stroke-width="1.6"/>
<line x1="852.24" y1="831.0" x2="852.24" y2="826.1" stroke="#000" stroke-width="1.6"/>
<line x1="857.33" y1="831.0" x2="857.33" y2="826.1" stroke="#000" stroke-width="1.6"/>
<line x1="862.42" y1="831.0" x2="862.42" y2="826.1" stroke="#000" stroke-width="1.6"/>
<line x1="867.51" y1="831.0" x2="867.51" y2="826.1" stroke="#000" stroke-width="1.6"/>
<line x1="872.61" y1="831.0" x2="872.61" y2="821.2" stroke="#000" stroke-width="1.9"/>
<line x1="877.7" y1="831.0" x2="877.7" y2="826.1" stroke="#000" stroke-width="1.6"/>
<line x1="882.79" y1="831.0" x2="882.79" y2="826.1" stroke="#000" stroke-width="1.6"/>
<line x1="887.88" y1="831.0" x2="887.88" y2="826.1" stroke="#000" stroke-width="1.6"/>
<line x1="892.97" y1="831.0" x2="892.97" y2="826.1" stroke="#000" stroke-width="1.6"/>
<line x1="898.06" y1="831.0" x2="898.06" y2="826.1" stroke="#000" stroke-width="1.6"/>
<line x1="903.15" y1="831.0" x2="903.15" y2="821.2" stroke="#000" stroke-width="1.9"/>
<line x1="908.24" y1="831.0" x2="908.24" y2="826.1" stroke="#000" stroke-width="1.6"/>
<line x1="913.33" y1="831.0" x2="913.33" y2="826.1" stroke="#000" stroke-width="1.6"/>
<line x1="918.42" y1="831.0" x2="918.42" y2="826.1" stroke="#000" stroke-width="1.6"/>
<line x1="923.51" y1="831.0" x2="923.51" y2="826.1" stroke="#000" stroke-width="1.6"/>
<line x1="928.61" y1="831.0" x2="928.61" y2="826.1" stroke="#000" stroke-width="1.6"/>
<line x1="933.7" y1="831.0" x2="933.7" y2="821.2" stroke="#000" stroke-width="1.9"/>
<line x1="938.79" y1="831.0" x2="938.79" y2="826.1" stroke="#000" stroke-width="1.6"/>
<line x1="943.88" y1="831.0" x2="943.88" y2="826.1" stroke="#000" stroke-width="1.6"/>
<line x1="948.97" y1="831.0" x2="948.97" y2="826.1" stroke="#000" stroke-width="1.6"/>
<line x1="954.06" y1="831.0" x2="954.06" y2="826.1" stroke="#000" stroke-width="1.6"/>
<line x1="959.15" y1="831.0" x2="959.15" y2="826.1" stroke="#000" stroke-width="1.6"/>
<line x1="964.24" y1="831.0" x2="964.24" y2="821.2" stroke="#000" stroke-width="1.9"/>
<line x1="969.33" y1="831.0" x2="969.33" y2="826.1" stroke="#000" stroke-width="1.6"/>
<line x1="974.43" y1="831.0" x2="974.43" y2="826.1" stroke="#000" stroke-width="1.6"/>
<line x1="979.52" y1="831.0" x2="979.52" y2="826.1" stroke="#000" stroke-width="1.6"/>
<line x1="984.61" y1="831.0" x2="984.61" y2="826.1" stroke="#000" stroke-width="1.6"/>
<line x1="989.7" y1="831.0" x2="989.7" y2="826.1" stroke="#000" stroke-width="1.6"/>
<line x1="994.79" y1="831.0" x2="994.79" y2="821.2" stroke="#000" stroke-width="1.9"/>
<line x1="999.88" y1="831.0" x2="999.88" y2="826.1" stroke="#000" stroke-width="1.6"/>
<line x1="1004.97" y1="831.0" x2="1004.97" y2="826.1" stroke="#000" stroke-width="1.6"/>
<line x1="1010.06" y1="831.0" x2="1010.06" y2="826.1" stroke="#000" stroke-width="1.6"/>
<line x1="1015.15" y1="831.0" x2="1015.15" y2="826.1" stroke="#000" stroke-width="1.6"/>
<line x1="1020.24" y1="831.0" x2="1020.24" y2="826.1" stroke="#000" stroke-width="1.6"/>
<line x1="1025.34" y1="831.0" x2="1025.34" y2="821.2" stroke="#000" stroke-width="1.9"/>
<line x1="1030.43" y1="831.0" x2="1030.43" y2="826.1" stroke="#000" stroke-width="1.6"/>
<line x1="1035.52" y1="831.0" x2="1035.52" y2="826.1" stroke="#000" stroke-width="1.6"/>
<line x1="1040.61" y1="831.0" x2="1040.61" y2="826.1" stroke="#000" stroke-width="1.6"/>
<line x1="1045.7" y1="831.0" x2="1045.7" y2="826.1" stroke="#000" stroke-width="1.6"/>
<line x1="1050.79" y1="831.0" x2="1050.79" y2="826.1" stroke="#000" stroke-width="1.6"/>
<line x1="1055.88" y1="831.0" x2="1055.88" y2="821.2" stroke="#000" stroke-width="1.9"/>
<line x1="1060.97" y1="831.0" x2="1060.97" y2="826.1" stroke="#000" stroke-width="1.6"/>
<line x1="1066.06" y1="831.0" x2="1066.06" y2="826.1" stroke="#000" stroke-width="1.6"/>
<line x1="1071.15" y1="831.0" x2="1071.15" y2="826.1" stroke="#000" stroke-width="1.6"/>
<line x1="1076.24" y1="831.0" x2="1076.24" y2="826.1" stroke="#000" stroke-width="1.6"/>
<line x1="1081.34" y1="831.0" x2="1081.34" y2="826.1" stroke="#000" stroke-width="1.6"/>
<line x1="1086.43" y1="831.0" x2="1086.43" y2="821.2" stroke="#000" stroke-width="1.9"/>
<line x1="1091.52" y1="831.0" x2="1091.52" y2="826.1" stroke="#000" stroke-width="1.6"/>
<line x1="1096.61" y1="831.0" x2="1096.61" y2="826.1" stroke="#000" stroke-width="1.6"/>
<line x1="1101.7" y1="831.0" x2="1101.7" y2="826.1" stroke="#000" stroke-width="1.6"/>
<line x1="1106.79" y1="831.0" x2="1106.79" y2="826.1" stroke="#000" stroke-width="1.6"/>
<line x1="1111.88" y1="831.0" x2="1111.88" y2="826.1" stroke="#000" stroke-width="1.6"/>
<line x1="1116.97" y1="831.0" x2="1116.97" y2="821.2" stroke="#000" stroke-width="1.9"/>
<line x1="1122.06" y1="831.0" x2="1122.06" y2="826.1" stroke="#000" stroke-width="1.6"/>
<line x1="1127.15" y1="831.0" x2="1127.15" y2="826.1" stroke="#000" stroke-width="1.6"/>
<line x1="1132.25" y1="831.0" x2="1132.25" y2="826.1" stroke="#000" stroke-width="1.6"/>
<line x1="1137.34" y1="831.0" x2="1137.34" y2="826.1" stroke="#000" stroke-width="1.6"/>
<line x1="1142.43" y1="831.0" x2="1142.43" y2="826.1" stroke="#000" stroke-width="1.6"/>
<line x1="1147.52" y1="831.0" x2="1147.52" y2="821.2" stroke="#000" stroke-width="1.9"/>
<line x1="1152.61" y1="831.0" x2="1152.61" y2="826.1" stroke="#000" stroke-width="1.6"/>
<line x1="1157.7" y1="831.0" x2="1157.7" y2="826.1" stroke="#000" stroke-width="1.6"/>
<line x1="1162.79" y1="831.0" x2="1162.79" y2="826.1" stroke="#000" stroke-width="1.6"/>
<line x1="1167.88" y1="831.0" x2="1167.88" y2="826.1" stroke="#000" stroke-width="1.6"/>
<line x1="1172.97" y1="831.0" x2="1172.97" y2="826.1" stroke="#000" stroke-width="1.6"/>
<line x1="1178.07" y1="831.0" x2="1178.07" y2="821.2" stroke="#000" stroke-width="1.9"/>
<line x1="1183.16" y1="831.0" x2="1183.16" y2="826.1" stroke="#000" stroke-width="1.6"/>
<line x1="1188.25" y1="831.0" x2="1188.25" y2="826.1" stroke="#000" stroke-width="1.6"/>
<line x1="1193.34" y1="831.0" x2="1193.34" y2="826.1" stroke="#000" stroke-width="1.6"/>
<line x1="1198.43" y1="831.0" x2="1198.43" y2="826.1" stroke="#000" stroke-width="1.6"/>
<line x1="1203.52" y1="831.0" x2="1203.52" y2="826.1" stroke="#000" stroke-width="1.6"/>
<line x1="1208.61" y1="831.0" x2="1208.61" y2="821.2" stroke="#000" stroke-width="1.9"/>
<line x1="1213.7" y1="831.0" x2="1213.7" y2="826.1" stroke="#000" stroke-width="1.6"/>
<line x1="1218.79" y1="831.0" x2="1218.79" y2="826.1" stroke="#000" stroke-width="1.6"/>
<line x1="1223.88" y1="831.0" x2="1223.88" y2="826.1" stroke="#000" stroke-width="1.6"/>
<line x1="1228.98" y1="831.0" x2="1228.98" y2="826.1" stroke="#000" stroke-width="1.6"/>
<line x1="1234.07" y1="831.0" x2="1234.07" y2="826.1" stroke="#000" stroke-width="1.6"/>
<line x1="1239.16" y1="831.0" x2="1239.16" y2="821.2" stroke="#000" stroke-width="1.9"/>
<line x1="83.5" y1="497.8" x2="83.5" y2="832.0" stroke="#000" stroke-width="2"/>
<line x1="83.5" y1="497.8" x2="93.9" y2="497.8" stroke="#000" stroke-width="2.2"/>
<text x="73" y="504.3" font-size="21" text-anchor="end">100</text>
<line x1="83.5" y1="531.1" x2="93.9" y2="531.1" stroke="#000" stroke-width="2.2"/>
<text x="73" y="537.6" font-size="21" text-anchor="end">80</text>
<line x1="83.5" y1="564.4" x2="93.9" y2="564.4" stroke="#000" stroke-width="2.2"/>
<text x="73" y="570.9" font-size="21" text-anchor="end">60</text>
<line x1="83.5" y1="597.7" x2="93.9" y2="597.7" stroke="#000" stroke-width="2.2"/>
<text x="73" y="604.2" font-size="21" text-anchor="end">40</text>
<line x1="83.5" y1="631" x2="93.9" y2="631" stroke="#000" stroke-width="2.2"/>
<text x="73" y="637.5" font-size="21" text-anchor="end">20</text>
<line x1="83.5" y1="664.3" x2="93.9" y2="664.3" stroke="#000" stroke-width="2.2"/>
<text x="73" y="670.8" font-size="21" text-anchor="end">0</text>
<line x1="83.5" y1="697.6" x2="93.9" y2="697.6" stroke="#000" stroke-width="2.2"/>
<text x="73" y="704.1" font-size="21" text-anchor="end">−<tspan dx="1.5">20</tspan></text>
<line x1="83.5" y1="730.9" x2="93.9" y2="730.9" stroke="#000" stroke-width="2.2"/>
<text x="73" y="737.4" font-size="21" text-anchor="end">−<tspan dx="1.5">40</tspan></text>
<line x1="83.5" y1="764.2" x2="93.9" y2="764.2" stroke="#000" stroke-width="2.2"/>
<text x="73" y="770.7" font-size="21" text-anchor="end">−<tspan dx="1.5">60</tspan></text>
<line x1="83.5" y1="797.5" x2="93.9" y2="797.5" stroke="#000" stroke-width="2.2"/>
<text x="73" y="804" font-size="21" text-anchor="end">−<tspan dx="1.5">80</tspan></text>
<line x1="83.5" y1="830.8" x2="93.9" y2="830.8" stroke="#000" stroke-width="2.2"/>
<text x="73" y="837.3" font-size="21" text-anchor="end">−<tspan dx="1.5">100</tspan></text>
<line x1="1239.6" y1="497.8" x2="1239.6" y2="832.0" stroke="#FF0000" stroke-width="2"/>
<line x1="1229.6" y1="497.8" x2="1239.6" y2="497.8" stroke="#FF0000" stroke-width="2.1"/>
<text x="1249" y="504.3" font-size="21" fill="#FF0000">300</text>
<line x1="1229.6" y1="553.3" x2="1239.6" y2="553.3" stroke="#FF0000" stroke-width="2.1"/>
<text x="1249" y="559.8" font-size="21" fill="#FF0000">200</text>
<line x1="1229.6" y1="608.8" x2="1239.6" y2="608.8" stroke="#FF0000" stroke-width="2.1"/>
<text x="1249" y="615.3" font-size="21" fill="#FF0000">100</text>
<line x1="1229.6" y1="664.3" x2="1239.6" y2="664.3" stroke="#FF0000" stroke-width="2.1"/>
<text x="1249" y="670.8" font-size="21" fill="#FF0000">0</text>
<line x1="1229.6" y1="719.8" x2="1239.6" y2="719.8" stroke="#FF0000" stroke-width="2.1"/>
<text x="1249" y="726.3" font-size="21" fill="#FF0000">−<tspan dx="2.3">100</tspan></text>
<line x1="1229.6" y1="775.3" x2="1239.6" y2="775.3" stroke="#FF0000" stroke-width="2.1"/>
<text x="1249" y="781.8" font-size="21" fill="#FF0000">−<tspan dx="2.3">200</tspan></text>
<line x1="1229.6" y1="830.8" x2="1239.6" y2="830.8" stroke="#FF0000" stroke-width="2.1"/>
<text x="1249" y="837.3" font-size="21" fill="#FF0000">−<tspan dx="2.3">300</tspan></text>
<text transform="translate(124.45,857.3) rotate(-45)" font-size="21.5" text-anchor="end">2000-06</text>
<text transform="translate(155,857.3) rotate(-45)" font-size="21.5" text-anchor="end">2000-12</text>
<text transform="translate(185.55,857.3) rotate(-45)" font-size="21.5" text-anchor="end">2001-06</text>
<text transform="translate(216.09,857.3) rotate(-45)" font-size="21.5" text-anchor="end">2001-12</text>
<text transform="translate(246.64,857.3) rotate(-45)" font-size="21.5" text-anchor="end">2002-06</text>
<text transform="translate(277.19,857.3) rotate(-45)" font-size="21.5" text-anchor="end">2002-12</text>
<text transform="translate(307.73,857.3) rotate(-45)" font-size="21.5" text-anchor="end">2003-06</text>
<text transform="translate(338.28,857.3) rotate(-45)" font-size="21.5" text-anchor="end">2003-12</text>
<text transform="translate(368.82,857.3) rotate(-45)" font-size="21.5" text-anchor="end">2004-06</text>
<text transform="translate(399.37,857.3) rotate(-45)" font-size="21.5" text-anchor="end">2004-12</text>
<text transform="translate(429.92,857.3) rotate(-45)" font-size="21.5" text-anchor="end">2005-06</text>
<text transform="translate(460.46,857.3) rotate(-45)" font-size="21.5" text-anchor="end">2005-12</text>
<text transform="translate(491.01,857.3) rotate(-45)" font-size="21.5" text-anchor="end">2006-06</text>
<text transform="translate(521.55,857.3) rotate(-45)" font-size="21.5" text-anchor="end">2006-12</text>
<text transform="translate(552.1,857.3) rotate(-45)" font-size="21.5" text-anchor="end">2007-06</text>
<text transform="translate(582.64,857.3) rotate(-45)" font-size="21.5" text-anchor="end">2007-12</text>
<text transform="translate(613.19,857.3) rotate(-45)" font-size="21.5" text-anchor="end">2008-06</text>
<text transform="translate(643.74,857.3) rotate(-45)" font-size="21.5" text-anchor="end">2008-12</text>
<text transform="translate(674.28,857.3) rotate(-45)" font-size="21.5" text-anchor="end">2009-06</text>
<text transform="translate(704.83,857.3) rotate(-45)" font-size="21.5" text-anchor="end">2009-12</text>
<text transform="translate(735.38,857.3) rotate(-45)" font-size="21.5" text-anchor="end">2010-06</text>
<text transform="translate(765.92,857.3) rotate(-45)" font-size="21.5" text-anchor="end">2010-12</text>
<text transform="translate(796.47,857.3) rotate(-45)" font-size="21.5" text-anchor="end">2011-06</text>
<text transform="translate(827.01,857.3) rotate(-45)" font-size="21.5" text-anchor="end">2011-12</text>
<text transform="translate(857.56,857.3) rotate(-45)" font-size="21.5" text-anchor="end">2012-06</text>
<text transform="translate(888.11,857.3) rotate(-45)" font-size="21.5" text-anchor="end">2012-12</text>
<text transform="translate(918.65,857.3) rotate(-45)" font-size="21.5" text-anchor="end">2013-06</text>
<text transform="translate(949.2,857.3) rotate(-45)" font-size="21.5" text-anchor="end">2013-12</text>
<text transform="translate(979.74,857.3) rotate(-45)" font-size="21.5" text-anchor="end">2014-06</text>
<text transform="translate(1010.29,857.3) rotate(-45)" font-size="21.5" text-anchor="end">2014-12</text>
<text transform="translate(1040.84,857.3) rotate(-45)" font-size="21.5" text-anchor="end">2015-06</text>
<text transform="translate(1071.38,857.3) rotate(-45)" font-size="21.5" text-anchor="end">2015-12</text>
<text transform="translate(1101.93,857.3) rotate(-45)" font-size="21.5" text-anchor="end">2016-06</text>
<text transform="translate(1132.47,857.3) rotate(-45)" font-size="21.5" text-anchor="end">2016-12</text>
<text transform="translate(1163.02,857.3) rotate(-45)" font-size="21.5" text-anchor="end">2017-06</text>
<text transform="translate(1193.57,857.3) rotate(-45)" font-size="21.5" text-anchor="end">2017-12</text>
<text transform="translate(1224.11,857.3) rotate(-45)" font-size="21.5" text-anchor="end">2018-06</text>
<text transform="translate(1254.66,857.3) rotate(-45)" font-size="21.5" text-anchor="end">2018-12</text>
<text x="659.6" y="935" font-size="25" text-anchor="middle">Year</text>
<text transform="translate(33,662.9) rotate(-90)" font-size="24" text-anchor="middle">Departure of inundation area</text>
<text transform="translate(1314,664.2) rotate(-90)" font-size="24" text-anchor="middle">Accumulative departure of inundation area</text>
<rect x="462" y="507" width="53.8" height="26.7" fill="#808080" stroke="#666" stroke-width="0.8"/>
<text x="523" y="528" font-size="24">Departure</text>
<line x1="684.5" y1="520.2" x2="739.8" y2="520.2" stroke="#D41C1C" stroke-width="2"/>
<circle cx="712.1" cy="520.3" r="4.6" fill="#FF0000"/>
<text x="745" y="528" font-size="24">Accumlative departure</text>
<text x="1194.6" y="502.4" font-size="26.5">(b)</text>
</svg>
</body></html>
